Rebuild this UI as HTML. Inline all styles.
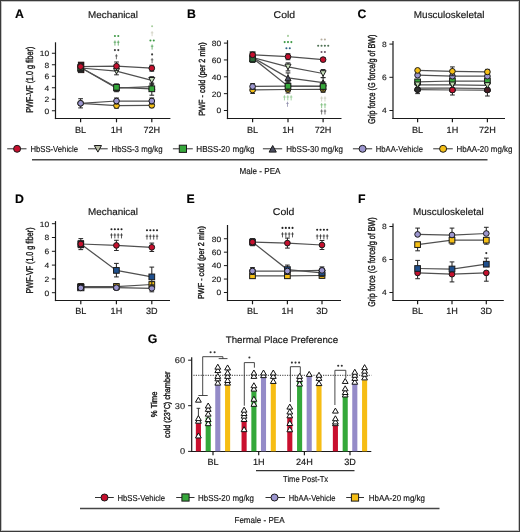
<!DOCTYPE html>
<html><head><meta charset="utf-8"><style>
html,body{margin:0;padding:0;background:#fff;}
#wrap{position:relative;width:520px;height:532px;overflow:hidden;background:#fff;}
svg{position:absolute;left:0;top:0;font-family:"Liberation Sans", sans-serif;}
text{stroke:#161616;stroke-width:0.16px;text-rendering:geometricPrecision;}
#wrap{will-change:transform;}
</style></head><body><div id="wrap">
<svg width="520" height="532" viewBox="0 0 520 532">
<rect x="0" y="0" width="520" height="532" fill="#fff"/>
<text x="15.0" y="17.7" font-size="12.3" text-anchor="start" font-weight="bold" fill="#000">A</text>
<text x="186.9" y="17.7" font-size="12.3" text-anchor="start" font-weight="bold" fill="#000">B</text>
<text x="357.4" y="17.7" font-size="12.3" text-anchor="start" font-weight="bold" fill="#000">C</text>
<text x="14.9" y="202.7" font-size="12.3" text-anchor="start" font-weight="bold" fill="#000">D</text>
<text x="186.6" y="202.7" font-size="12.3" text-anchor="start" font-weight="bold" fill="#000">E</text>
<text x="357.9" y="202.7" font-size="12.3" text-anchor="start" font-weight="bold" fill="#000">F</text>
<text x="147.8" y="343.3" font-size="12.3" text-anchor="start" font-weight="bold" fill="#000">G</text>
<text x="113.0" y="18.0" font-size="9.8" text-anchor="middle" font-weight="normal" fill="#161616" textLength="50.0" lengthAdjust="spacingAndGlyphs">Mechanical</text>
<text x="284.4" y="17.8" font-size="9.8" text-anchor="middle" font-weight="normal" fill="#161616" textLength="21.6" lengthAdjust="spacingAndGlyphs">Cold</text>
<text x="449.2" y="18.0" font-size="9.8" text-anchor="middle" font-weight="normal" fill="#161616" textLength="70.7" lengthAdjust="spacingAndGlyphs">Musculoskeletal</text>
<text x="113.0" y="215.2" font-size="9.8" text-anchor="middle" font-weight="normal" fill="#161616" textLength="50.0" lengthAdjust="spacingAndGlyphs">Mechanical</text>
<text x="283.6" y="215.2" font-size="9.8" text-anchor="middle" font-weight="normal" fill="#161616" textLength="21.6" lengthAdjust="spacingAndGlyphs">Cold</text>
<text x="448.4" y="215.2" font-size="9.8" text-anchor="middle" font-weight="normal" fill="#161616" textLength="70.7" lengthAdjust="spacingAndGlyphs">Musculoskeletal</text>
<text x="281.9" y="343.0" font-size="9.6" text-anchor="middle" font-weight="normal" fill="#161616" textLength="112.3" lengthAdjust="spacingAndGlyphs">Thermal Place Preference</text>
<line x1="55.5" y1="42.3" x2="55.5" y2="119.1" stroke="#1a1a1a" stroke-width="1.2"/>
<line x1="54.9" y1="118.5" x2="170.4" y2="118.5" stroke="#1a1a1a" stroke-width="1.2"/>
<line x1="51.9" y1="110.75" x2="55.5" y2="110.75" stroke="#1a1a1a" stroke-width="1.0"/>
<text x="49.199999999999996" y="113.6" font-size="7.7" text-anchor="end" font-weight="normal" fill="#161616" textLength="4.71" lengthAdjust="spacingAndGlyphs" style="stroke-width:0.12px">0</text>
<line x1="51.9" y1="99.25" x2="55.5" y2="99.25" stroke="#1a1a1a" stroke-width="1.0"/>
<text x="49.199999999999996" y="102.1" font-size="7.7" text-anchor="end" font-weight="normal" fill="#161616" textLength="4.71" lengthAdjust="spacingAndGlyphs" style="stroke-width:0.12px">2</text>
<line x1="51.9" y1="87.75" x2="55.5" y2="87.75" stroke="#1a1a1a" stroke-width="1.0"/>
<text x="49.199999999999996" y="90.6" font-size="7.7" text-anchor="end" font-weight="normal" fill="#161616" textLength="4.71" lengthAdjust="spacingAndGlyphs" style="stroke-width:0.12px">4</text>
<line x1="51.9" y1="76.25" x2="55.5" y2="76.25" stroke="#1a1a1a" stroke-width="1.0"/>
<text x="49.199999999999996" y="79.1" font-size="7.7" text-anchor="end" font-weight="normal" fill="#161616" textLength="4.71" lengthAdjust="spacingAndGlyphs" style="stroke-width:0.12px">6</text>
<line x1="51.9" y1="64.75" x2="55.5" y2="64.75" stroke="#1a1a1a" stroke-width="1.0"/>
<text x="49.199999999999996" y="67.6" font-size="7.7" text-anchor="end" font-weight="normal" fill="#161616" textLength="4.71" lengthAdjust="spacingAndGlyphs" style="stroke-width:0.12px">8</text>
<line x1="51.9" y1="53.25" x2="55.5" y2="53.25" stroke="#1a1a1a" stroke-width="1.0"/>
<text x="49.199999999999996" y="56.1" font-size="7.7" text-anchor="end" font-weight="normal" fill="#161616" textLength="9.42" lengthAdjust="spacingAndGlyphs" style="stroke-width:0.12px">10</text>
<line x1="80.6" y1="118.5" x2="80.6" y2="122.3" stroke="#1a1a1a" stroke-width="1.2"/>
<text x="80.6" y="132.6" font-size="9.1" text-anchor="middle" font-weight="normal" fill="#161616">BL</text>
<line x1="116.5" y1="118.5" x2="116.5" y2="122.3" stroke="#1a1a1a" stroke-width="1.2"/>
<text x="116.5" y="132.6" font-size="9.1" text-anchor="middle" font-weight="normal" fill="#161616">1H</text>
<line x1="151.8" y1="118.5" x2="151.8" y2="122.3" stroke="#1a1a1a" stroke-width="1.2"/>
<text x="151.8" y="132.6" font-size="9.1" text-anchor="middle" font-weight="normal" fill="#161616">72H</text>
<text transform="translate(33.4,79.7) rotate(-90)" x="0" y="0" font-size="9.9" text-anchor="middle" font-weight="normal" fill="#161616" textLength="66" lengthAdjust="spacingAndGlyphs" style="stroke-width:0.38px">PWF-VF (1.0 g fiber)</text>
<polyline points="80.6,103.3 116.5,105.6 151.8,105.3" fill="none" stroke="#505050" stroke-width="1.25"/>
<polyline points="80.6,103.3 116.5,101.0 151.8,101.0" fill="none" stroke="#505050" stroke-width="1.25"/>
<polyline points="80.6,67.5 116.5,88.2 151.8,86.6" fill="none" stroke="#505050" stroke-width="1.25"/>
<polyline points="80.6,68.0 116.5,71.2 151.8,80.3" fill="none" stroke="#505050" stroke-width="1.25"/>
<polyline points="80.6,67.5 116.5,87.3 151.8,88.8" fill="none" stroke="#505050" stroke-width="1.25"/>
<polyline points="80.6,66.6 116.5,66.2 151.8,68.2" fill="none" stroke="#505050" stroke-width="1.25"/>
<rect x="77.9" y="61.7" width="6.4" height="11.4" fill="#2a1212"/>
<line x1="116.5" y1="103.0" x2="116.5" y2="108.19999999999999" stroke="#2a2a2a" stroke-width="1.05"/>
<line x1="114.15" y1="103.0" x2="118.85" y2="103.0" stroke="#2a2a2a" stroke-width="1.05"/>
<line x1="114.15" y1="108.19999999999999" x2="118.85" y2="108.19999999999999" stroke="#2a2a2a" stroke-width="1.05"/>
<line x1="151.8" y1="102.89999999999999" x2="151.8" y2="107.7" stroke="#2a2a2a" stroke-width="1.05"/>
<line x1="149.45000000000002" y1="102.89999999999999" x2="154.15" y2="102.89999999999999" stroke="#2a2a2a" stroke-width="1.05"/>
<line x1="149.45000000000002" y1="107.7" x2="154.15" y2="107.7" stroke="#2a2a2a" stroke-width="1.05"/>
<circle cx="80.6" cy="103.3" r="2.85" fill="#f5bf16" stroke="#1a1a1a" stroke-width="1.0"/>
<circle cx="116.5" cy="105.6" r="2.85" fill="#f5bf16" stroke="#1a1a1a" stroke-width="1.0"/>
<circle cx="151.8" cy="105.3" r="2.85" fill="#f5bf16" stroke="#1a1a1a" stroke-width="1.0"/>
<line x1="80.6" y1="98.7" x2="80.6" y2="107.89999999999999" stroke="#2a2a2a" stroke-width="1.05"/>
<line x1="78.25" y1="98.7" x2="82.94999999999999" y2="98.7" stroke="#2a2a2a" stroke-width="1.05"/>
<line x1="78.25" y1="107.89999999999999" x2="82.94999999999999" y2="107.89999999999999" stroke="#2a2a2a" stroke-width="1.05"/>
<line x1="116.5" y1="98.0" x2="116.5" y2="104.0" stroke="#2a2a2a" stroke-width="1.05"/>
<line x1="114.15" y1="98.0" x2="118.85" y2="98.0" stroke="#2a2a2a" stroke-width="1.05"/>
<line x1="114.15" y1="104.0" x2="118.85" y2="104.0" stroke="#2a2a2a" stroke-width="1.05"/>
<line x1="151.8" y1="98.0" x2="151.8" y2="104.0" stroke="#2a2a2a" stroke-width="1.05"/>
<line x1="149.45000000000002" y1="98.0" x2="154.15" y2="98.0" stroke="#2a2a2a" stroke-width="1.05"/>
<line x1="149.45000000000002" y1="104.0" x2="154.15" y2="104.0" stroke="#2a2a2a" stroke-width="1.05"/>
<circle cx="80.6" cy="103.3" r="2.85" fill="#9c96cf" stroke="#1a1a1a" stroke-width="1.0"/>
<circle cx="116.5" cy="101.0" r="2.85" fill="#9c96cf" stroke="#1a1a1a" stroke-width="1.0"/>
<circle cx="151.8" cy="101.0" r="2.85" fill="#9c96cf" stroke="#1a1a1a" stroke-width="1.0"/>
<line x1="80.6" y1="64.5" x2="80.6" y2="72.5" stroke="#2a2a2a" stroke-width="1.05"/>
<line x1="78.25" y1="64.5" x2="82.94999999999999" y2="64.5" stroke="#2a2a2a" stroke-width="1.05"/>
<line x1="78.25" y1="72.5" x2="82.94999999999999" y2="72.5" stroke="#2a2a2a" stroke-width="1.05"/>
<line x1="116.5" y1="84.7" x2="116.5" y2="91.7" stroke="#2a2a2a" stroke-width="1.05"/>
<line x1="114.15" y1="84.7" x2="118.85" y2="84.7" stroke="#2a2a2a" stroke-width="1.05"/>
<line x1="114.15" y1="91.7" x2="118.85" y2="91.7" stroke="#2a2a2a" stroke-width="1.05"/>
<line x1="151.8" y1="83.1" x2="151.8" y2="90.1" stroke="#2a2a2a" stroke-width="1.05"/>
<line x1="149.45000000000002" y1="83.1" x2="154.15" y2="83.1" stroke="#2a2a2a" stroke-width="1.05"/>
<line x1="149.45000000000002" y1="90.1" x2="154.15" y2="90.1" stroke="#2a2a2a" stroke-width="1.05"/>
<path d="M77.6,71.3 L83.6,71.3 L80.6,65.7 Z" fill="#4c4e60" stroke="#1a1a1a" stroke-width="1.0" stroke-linejoin="miter"/>
<path d="M113.5,91.0 L119.5,91.0 L116.5,85.4 Z" fill="#4c4e60" stroke="#1a1a1a" stroke-width="1.0" stroke-linejoin="miter"/>
<path d="M148.8,89.39999999999999 L154.8,89.39999999999999 L151.8,83.8 Z" fill="#4c4e60" stroke="#1a1a1a" stroke-width="1.0" stroke-linejoin="miter"/>
<line x1="80.6" y1="65.5" x2="80.6" y2="72.5" stroke="#2a2a2a" stroke-width="1.05"/>
<line x1="78.25" y1="65.5" x2="82.94999999999999" y2="65.5" stroke="#2a2a2a" stroke-width="1.05"/>
<line x1="78.25" y1="72.5" x2="82.94999999999999" y2="72.5" stroke="#2a2a2a" stroke-width="1.05"/>
<line x1="116.5" y1="67.60000000000001" x2="116.5" y2="74.8" stroke="#2a2a2a" stroke-width="1.05"/>
<line x1="114.15" y1="67.60000000000001" x2="118.85" y2="67.60000000000001" stroke="#2a2a2a" stroke-width="1.05"/>
<line x1="114.15" y1="74.8" x2="118.85" y2="74.8" stroke="#2a2a2a" stroke-width="1.05"/>
<line x1="151.8" y1="76.7" x2="151.8" y2="83.89999999999999" stroke="#2a2a2a" stroke-width="1.05"/>
<line x1="149.45000000000002" y1="76.7" x2="154.15" y2="76.7" stroke="#2a2a2a" stroke-width="1.05"/>
<line x1="149.45000000000002" y1="83.89999999999999" x2="154.15" y2="83.89999999999999" stroke="#2a2a2a" stroke-width="1.05"/>
<path d="M77.6,66.2 L83.6,66.2 L80.6,71.8 Z" fill="#c9e0bd" stroke="#1a1a1a" stroke-width="1.0" stroke-linejoin="miter"/>
<path d="M113.5,68.4 L119.5,68.4 L116.5,74.0 Z" fill="#c9e0bd" stroke="#1a1a1a" stroke-width="1.0" stroke-linejoin="miter"/>
<path d="M148.8,77.5 L154.8,77.5 L151.8,83.1 Z" fill="#c9e0bd" stroke="#1a1a1a" stroke-width="1.0" stroke-linejoin="miter"/>
<line x1="80.6" y1="64.0" x2="80.6" y2="71.0" stroke="#2a2a2a" stroke-width="1.05"/>
<line x1="78.25" y1="64.0" x2="82.94999999999999" y2="64.0" stroke="#2a2a2a" stroke-width="1.05"/>
<line x1="78.25" y1="71.0" x2="82.94999999999999" y2="71.0" stroke="#2a2a2a" stroke-width="1.05"/>
<line x1="116.5" y1="83.89999999999999" x2="116.5" y2="90.7" stroke="#2a2a2a" stroke-width="1.05"/>
<line x1="114.15" y1="83.89999999999999" x2="118.85" y2="83.89999999999999" stroke="#2a2a2a" stroke-width="1.05"/>
<line x1="114.15" y1="90.7" x2="118.85" y2="90.7" stroke="#2a2a2a" stroke-width="1.05"/>
<line x1="151.8" y1="84.8" x2="151.8" y2="95.2" stroke="#2a2a2a" stroke-width="1.05"/>
<line x1="149.45000000000002" y1="84.8" x2="154.15" y2="84.8" stroke="#2a2a2a" stroke-width="1.05"/>
<line x1="149.45000000000002" y1="95.2" x2="154.15" y2="95.2" stroke="#2a2a2a" stroke-width="1.05"/>
<rect x="77.75" y="64.65" width="5.7" height="5.7" fill="#36a83b" stroke="#1a1a1a" stroke-width="1.0"/>
<rect x="113.65" y="84.45" width="5.7" height="5.7" fill="#36a83b" stroke="#1a1a1a" stroke-width="1.0"/>
<rect x="148.95000000000002" y="85.95" width="5.7" height="5.7" fill="#36a83b" stroke="#1a1a1a" stroke-width="1.0"/>
<line x1="80.6" y1="63.099999999999994" x2="80.6" y2="70.1" stroke="#2a2a2a" stroke-width="1.05"/>
<line x1="78.25" y1="63.099999999999994" x2="82.94999999999999" y2="63.099999999999994" stroke="#2a2a2a" stroke-width="1.05"/>
<line x1="78.25" y1="70.1" x2="82.94999999999999" y2="70.1" stroke="#2a2a2a" stroke-width="1.05"/>
<line x1="116.5" y1="62.0" x2="116.5" y2="70.4" stroke="#2a2a2a" stroke-width="1.05"/>
<line x1="114.15" y1="62.0" x2="118.85" y2="62.0" stroke="#2a2a2a" stroke-width="1.05"/>
<line x1="114.15" y1="70.4" x2="118.85" y2="70.4" stroke="#2a2a2a" stroke-width="1.05"/>
<line x1="151.8" y1="65.2" x2="151.8" y2="71.2" stroke="#2a2a2a" stroke-width="1.05"/>
<line x1="149.45000000000002" y1="65.2" x2="154.15" y2="65.2" stroke="#2a2a2a" stroke-width="1.05"/>
<line x1="149.45000000000002" y1="71.2" x2="154.15" y2="71.2" stroke="#2a2a2a" stroke-width="1.05"/>
<circle cx="80.6" cy="66.6" r="2.85" fill="#c5102e" stroke="#1a1a1a" stroke-width="1.0"/>
<circle cx="116.5" cy="66.2" r="2.85" fill="#c5102e" stroke="#1a1a1a" stroke-width="1.0"/>
<circle cx="151.8" cy="68.2" r="2.85" fill="#c5102e" stroke="#1a1a1a" stroke-width="1.0"/>
<line x1="227.5" y1="40.2" x2="227.5" y2="119.1" stroke="#1a1a1a" stroke-width="1.2"/>
<line x1="226.9" y1="118.5" x2="341.5" y2="118.5" stroke="#1a1a1a" stroke-width="1.2"/>
<line x1="223.9" y1="110.5" x2="227.5" y2="110.5" stroke="#1a1a1a" stroke-width="1.0"/>
<text x="221.20000000000002" y="113.35" font-size="7.7" text-anchor="end" font-weight="normal" fill="#161616" textLength="4.71" lengthAdjust="spacingAndGlyphs" style="stroke-width:0.12px">0</text>
<line x1="223.9" y1="93.65" x2="227.5" y2="93.65" stroke="#1a1a1a" stroke-width="1.0"/>
<text x="221.20000000000002" y="96.5" font-size="7.7" text-anchor="end" font-weight="normal" fill="#161616" textLength="9.42" lengthAdjust="spacingAndGlyphs" style="stroke-width:0.12px">20</text>
<line x1="223.9" y1="76.8" x2="227.5" y2="76.8" stroke="#1a1a1a" stroke-width="1.0"/>
<text x="221.20000000000002" y="79.64999999999999" font-size="7.7" text-anchor="end" font-weight="normal" fill="#161616" textLength="9.42" lengthAdjust="spacingAndGlyphs" style="stroke-width:0.12px">40</text>
<line x1="223.9" y1="59.949999999999996" x2="227.5" y2="59.949999999999996" stroke="#1a1a1a" stroke-width="1.0"/>
<text x="221.20000000000002" y="62.8" font-size="7.7" text-anchor="end" font-weight="normal" fill="#161616" textLength="9.42" lengthAdjust="spacingAndGlyphs" style="stroke-width:0.12px">60</text>
<line x1="223.9" y1="43.099999999999994" x2="227.5" y2="43.099999999999994" stroke="#1a1a1a" stroke-width="1.0"/>
<text x="221.20000000000002" y="45.949999999999996" font-size="7.7" text-anchor="end" font-weight="normal" fill="#161616" textLength="9.42" lengthAdjust="spacingAndGlyphs" style="stroke-width:0.12px">80</text>
<line x1="252.6" y1="118.5" x2="252.6" y2="122.3" stroke="#1a1a1a" stroke-width="1.2"/>
<text x="252.6" y="132.6" font-size="9.1" text-anchor="middle" font-weight="normal" fill="#161616">BL</text>
<line x1="288.0" y1="118.5" x2="288.0" y2="122.3" stroke="#1a1a1a" stroke-width="1.2"/>
<text x="288.0" y="132.6" font-size="9.1" text-anchor="middle" font-weight="normal" fill="#161616">1H</text>
<line x1="323.1" y1="118.5" x2="323.1" y2="122.3" stroke="#1a1a1a" stroke-width="1.2"/>
<text x="323.1" y="132.6" font-size="9.1" text-anchor="middle" font-weight="normal" fill="#161616">72H</text>
<text transform="translate(204.6,79.1) rotate(-90)" x="0" y="0" font-size="8.9" text-anchor="middle" font-weight="normal" fill="#161616" textLength="73.5" lengthAdjust="spacingAndGlyphs" style="stroke-width:0.38px">PWF - cold (per 2 min)</text>
<polyline points="252.6,90.0 288.0,89.5 323.1,89.3" fill="none" stroke="#505050" stroke-width="1.25"/>
<polyline points="252.6,86.5 288.0,86.2 323.1,86.0" fill="none" stroke="#505050" stroke-width="1.25"/>
<polyline points="252.6,57.5 288.0,77.9 323.1,82.7" fill="none" stroke="#505050" stroke-width="1.25"/>
<polyline points="252.6,57.5 288.0,66.9 323.1,73.5" fill="none" stroke="#505050" stroke-width="1.25"/>
<polyline points="252.6,58.0 288.0,86.2 323.1,86.5" fill="none" stroke="#505050" stroke-width="1.25"/>
<polyline points="252.6,54.8 288.0,56.7 323.1,59.6" fill="none" stroke="#505050" stroke-width="1.25"/>
<line x1="252.6" y1="86.5" x2="252.6" y2="93.5" stroke="#2a2a2a" stroke-width="1.05"/>
<line x1="250.25" y1="86.5" x2="254.95" y2="86.5" stroke="#2a2a2a" stroke-width="1.05"/>
<line x1="250.25" y1="93.5" x2="254.95" y2="93.5" stroke="#2a2a2a" stroke-width="1.05"/>
<line x1="288.0" y1="86.0" x2="288.0" y2="93.0" stroke="#2a2a2a" stroke-width="1.05"/>
<line x1="285.65" y1="86.0" x2="290.35" y2="86.0" stroke="#2a2a2a" stroke-width="1.05"/>
<line x1="285.65" y1="93.0" x2="290.35" y2="93.0" stroke="#2a2a2a" stroke-width="1.05"/>
<line x1="323.1" y1="86.3" x2="323.1" y2="92.3" stroke="#2a2a2a" stroke-width="1.05"/>
<line x1="320.75" y1="86.3" x2="325.45000000000005" y2="86.3" stroke="#2a2a2a" stroke-width="1.05"/>
<line x1="320.75" y1="92.3" x2="325.45000000000005" y2="92.3" stroke="#2a2a2a" stroke-width="1.05"/>
<circle cx="252.6" cy="90.0" r="2.85" fill="#f5bf16" stroke="#1a1a1a" stroke-width="1.0"/>
<circle cx="288.0" cy="89.5" r="2.85" fill="#f5bf16" stroke="#1a1a1a" stroke-width="1.0"/>
<circle cx="323.1" cy="89.3" r="2.85" fill="#f5bf16" stroke="#1a1a1a" stroke-width="1.0"/>
<line x1="252.6" y1="83.5" x2="252.6" y2="89.5" stroke="#2a2a2a" stroke-width="1.05"/>
<line x1="250.25" y1="83.5" x2="254.95" y2="83.5" stroke="#2a2a2a" stroke-width="1.05"/>
<line x1="250.25" y1="89.5" x2="254.95" y2="89.5" stroke="#2a2a2a" stroke-width="1.05"/>
<line x1="288.0" y1="83.2" x2="288.0" y2="89.2" stroke="#2a2a2a" stroke-width="1.05"/>
<line x1="285.65" y1="83.2" x2="290.35" y2="83.2" stroke="#2a2a2a" stroke-width="1.05"/>
<line x1="285.65" y1="89.2" x2="290.35" y2="89.2" stroke="#2a2a2a" stroke-width="1.05"/>
<line x1="323.1" y1="83.0" x2="323.1" y2="89.0" stroke="#2a2a2a" stroke-width="1.05"/>
<line x1="320.75" y1="83.0" x2="325.45000000000005" y2="83.0" stroke="#2a2a2a" stroke-width="1.05"/>
<line x1="320.75" y1="89.0" x2="325.45000000000005" y2="89.0" stroke="#2a2a2a" stroke-width="1.05"/>
<circle cx="252.6" cy="86.5" r="2.85" fill="#9c96cf" stroke="#1a1a1a" stroke-width="1.0"/>
<circle cx="288.0" cy="86.2" r="2.85" fill="#9c96cf" stroke="#1a1a1a" stroke-width="1.0"/>
<circle cx="323.1" cy="86.0" r="2.85" fill="#9c96cf" stroke="#1a1a1a" stroke-width="1.0"/>
<line x1="252.6" y1="55.0" x2="252.6" y2="62.0" stroke="#2a2a2a" stroke-width="1.05"/>
<line x1="250.25" y1="55.0" x2="254.95" y2="55.0" stroke="#2a2a2a" stroke-width="1.05"/>
<line x1="250.25" y1="62.0" x2="254.95" y2="62.0" stroke="#2a2a2a" stroke-width="1.05"/>
<line x1="288.0" y1="72.9" x2="288.0" y2="82.9" stroke="#2a2a2a" stroke-width="1.05"/>
<line x1="285.65" y1="72.9" x2="290.35" y2="72.9" stroke="#2a2a2a" stroke-width="1.05"/>
<line x1="285.65" y1="82.9" x2="290.35" y2="82.9" stroke="#2a2a2a" stroke-width="1.05"/>
<line x1="323.1" y1="77.7" x2="323.1" y2="87.7" stroke="#2a2a2a" stroke-width="1.05"/>
<line x1="320.75" y1="77.7" x2="325.45000000000005" y2="77.7" stroke="#2a2a2a" stroke-width="1.05"/>
<line x1="320.75" y1="87.7" x2="325.45000000000005" y2="87.7" stroke="#2a2a2a" stroke-width="1.05"/>
<path d="M249.6,61.3 L255.6,61.3 L252.6,55.7 Z" fill="#4c4e60" stroke="#1a1a1a" stroke-width="1.0" stroke-linejoin="miter"/>
<path d="M285.0,80.7 L291.0,80.7 L288.0,75.10000000000001 Z" fill="#4c4e60" stroke="#1a1a1a" stroke-width="1.0" stroke-linejoin="miter"/>
<path d="M320.1,85.5 L326.1,85.5 L323.1,79.9 Z" fill="#4c4e60" stroke="#1a1a1a" stroke-width="1.0" stroke-linejoin="miter"/>
<line x1="252.6" y1="55.0" x2="252.6" y2="62.0" stroke="#2a2a2a" stroke-width="1.05"/>
<line x1="250.25" y1="55.0" x2="254.95" y2="55.0" stroke="#2a2a2a" stroke-width="1.05"/>
<line x1="250.25" y1="62.0" x2="254.95" y2="62.0" stroke="#2a2a2a" stroke-width="1.05"/>
<line x1="288.0" y1="62.900000000000006" x2="288.0" y2="70.9" stroke="#2a2a2a" stroke-width="1.05"/>
<line x1="285.65" y1="62.900000000000006" x2="290.35" y2="62.900000000000006" stroke="#2a2a2a" stroke-width="1.05"/>
<line x1="285.65" y1="70.9" x2="290.35" y2="70.9" stroke="#2a2a2a" stroke-width="1.05"/>
<line x1="323.1" y1="69.5" x2="323.1" y2="77.5" stroke="#2a2a2a" stroke-width="1.05"/>
<line x1="320.75" y1="69.5" x2="325.45000000000005" y2="69.5" stroke="#2a2a2a" stroke-width="1.05"/>
<line x1="320.75" y1="77.5" x2="325.45000000000005" y2="77.5" stroke="#2a2a2a" stroke-width="1.05"/>
<path d="M249.6,55.7 L255.6,55.7 L252.6,61.3 Z" fill="#c9e0bd" stroke="#1a1a1a" stroke-width="1.0" stroke-linejoin="miter"/>
<path d="M285.0,64.10000000000001 L291.0,64.10000000000001 L288.0,69.7 Z" fill="#c9e0bd" stroke="#1a1a1a" stroke-width="1.0" stroke-linejoin="miter"/>
<path d="M320.1,70.7 L326.1,70.7 L323.1,76.3 Z" fill="#c9e0bd" stroke="#1a1a1a" stroke-width="1.0" stroke-linejoin="miter"/>
<line x1="252.6" y1="55.2" x2="252.6" y2="62.2" stroke="#2a2a2a" stroke-width="1.05"/>
<line x1="250.25" y1="55.2" x2="254.95" y2="55.2" stroke="#2a2a2a" stroke-width="1.05"/>
<line x1="250.25" y1="62.2" x2="254.95" y2="62.2" stroke="#2a2a2a" stroke-width="1.05"/>
<line x1="288.0" y1="81.7" x2="288.0" y2="90.7" stroke="#2a2a2a" stroke-width="1.05"/>
<line x1="285.65" y1="81.7" x2="290.35" y2="81.7" stroke="#2a2a2a" stroke-width="1.05"/>
<line x1="285.65" y1="90.7" x2="290.35" y2="90.7" stroke="#2a2a2a" stroke-width="1.05"/>
<line x1="323.1" y1="82.0" x2="323.1" y2="91.0" stroke="#2a2a2a" stroke-width="1.05"/>
<line x1="320.75" y1="82.0" x2="325.45000000000005" y2="82.0" stroke="#2a2a2a" stroke-width="1.05"/>
<line x1="320.75" y1="91.0" x2="325.45000000000005" y2="91.0" stroke="#2a2a2a" stroke-width="1.05"/>
<rect x="249.75" y="55.85" width="5.7" height="5.7" fill="#36a83b" stroke="#1a1a1a" stroke-width="1.0"/>
<rect x="285.15" y="83.35000000000001" width="5.7" height="5.7" fill="#36a83b" stroke="#1a1a1a" stroke-width="1.0"/>
<rect x="320.25" y="83.65" width="5.7" height="5.7" fill="#36a83b" stroke="#1a1a1a" stroke-width="1.0"/>
<rect x="249.7" y="51.3" width="5.8" height="11.3" fill="#1f2b22"/>
<rect x="250.5" y="57.5" width="4.2" height="3.6" fill="#2f6b3a"/>
<line x1="288.0" y1="53.7" x2="288.0" y2="59.7" stroke="#2a2a2a" stroke-width="1.05"/>
<line x1="285.65" y1="53.7" x2="290.35" y2="53.7" stroke="#2a2a2a" stroke-width="1.05"/>
<line x1="285.65" y1="59.7" x2="290.35" y2="59.7" stroke="#2a2a2a" stroke-width="1.05"/>
<line x1="323.1" y1="57.6" x2="323.1" y2="61.6" stroke="#2a2a2a" stroke-width="1.05"/>
<line x1="320.75" y1="57.6" x2="325.45000000000005" y2="57.6" stroke="#2a2a2a" stroke-width="1.05"/>
<line x1="320.75" y1="61.6" x2="325.45000000000005" y2="61.6" stroke="#2a2a2a" stroke-width="1.05"/>
<circle cx="252.6" cy="54.8" r="2.85" fill="#c5102e" stroke="#1a1a1a" stroke-width="1.0"/>
<circle cx="288.0" cy="56.7" r="2.85" fill="#c5102e" stroke="#1a1a1a" stroke-width="1.0"/>
<circle cx="323.1" cy="59.6" r="2.85" fill="#c5102e" stroke="#1a1a1a" stroke-width="1.0"/>
<line x1="393.0" y1="41.0" x2="393.0" y2="119.1" stroke="#1a1a1a" stroke-width="1.2"/>
<line x1="392.4" y1="118.5" x2="505.0" y2="118.5" stroke="#1a1a1a" stroke-width="1.2"/>
<line x1="389.4" y1="110.5" x2="393.0" y2="110.5" stroke="#1a1a1a" stroke-width="1.0"/>
<text x="386.7" y="113.35" font-size="7.7" text-anchor="end" font-weight="normal" fill="#161616" textLength="4.71" lengthAdjust="spacingAndGlyphs" style="stroke-width:0.12px">4</text>
<line x1="389.4" y1="77.3" x2="393.0" y2="77.3" stroke="#1a1a1a" stroke-width="1.0"/>
<text x="386.7" y="80.14999999999999" font-size="7.7" text-anchor="end" font-weight="normal" fill="#161616" textLength="4.71" lengthAdjust="spacingAndGlyphs" style="stroke-width:0.12px">6</text>
<line x1="389.4" y1="44.099999999999994" x2="393.0" y2="44.099999999999994" stroke="#1a1a1a" stroke-width="1.0"/>
<text x="386.7" y="46.949999999999996" font-size="7.7" text-anchor="end" font-weight="normal" fill="#161616" textLength="4.71" lengthAdjust="spacingAndGlyphs" style="stroke-width:0.12px">8</text>
<line x1="417.6" y1="118.5" x2="417.6" y2="122.3" stroke="#1a1a1a" stroke-width="1.2"/>
<text x="417.6" y="132.6" font-size="9.1" text-anchor="middle" font-weight="normal" fill="#161616">BL</text>
<line x1="452.4" y1="118.5" x2="452.4" y2="122.3" stroke="#1a1a1a" stroke-width="1.2"/>
<text x="452.4" y="132.6" font-size="9.1" text-anchor="middle" font-weight="normal" fill="#161616">1H</text>
<line x1="487.4" y1="118.5" x2="487.4" y2="122.3" stroke="#1a1a1a" stroke-width="1.2"/>
<text x="487.4" y="132.6" font-size="9.1" text-anchor="middle" font-weight="normal" fill="#161616">72H</text>
<text transform="translate(375.0,79.3) rotate(-90)" x="0" y="0" font-size="9.8" text-anchor="middle" font-weight="normal" fill="#161616" textLength="89.5" lengthAdjust="spacingAndGlyphs" style="stroke-width:0.38px">Grip force (G force/g of BW)</text>
<polyline points="417.6,89.6 452.4,90.0 487.4,90.0" fill="none" stroke="#505050" stroke-width="1.25"/>
<polyline points="417.6,88.0 452.4,88.0 487.4,88.5" fill="none" stroke="#505050" stroke-width="1.25"/>
<polyline points="417.6,84.8 452.4,84.8 487.4,85.4" fill="none" stroke="#505050" stroke-width="1.25"/>
<polyline points="417.6,81.9 452.4,81.0 487.4,81.0" fill="none" stroke="#505050" stroke-width="1.25"/>
<polyline points="417.6,75.2 452.4,76.2 487.4,76.2" fill="none" stroke="#505050" stroke-width="1.25"/>
<polyline points="417.6,70.4 452.4,71.3 487.4,71.9" fill="none" stroke="#505050" stroke-width="1.25"/>
<line x1="417.6" y1="85.6" x2="417.6" y2="93.6" stroke="#2a2a2a" stroke-width="1.05"/>
<line x1="415.25" y1="85.6" x2="419.95000000000005" y2="85.6" stroke="#2a2a2a" stroke-width="1.05"/>
<line x1="415.25" y1="93.6" x2="419.95000000000005" y2="93.6" stroke="#2a2a2a" stroke-width="1.05"/>
<line x1="452.4" y1="85.0" x2="452.4" y2="95.0" stroke="#2a2a2a" stroke-width="1.05"/>
<line x1="450.04999999999995" y1="85.0" x2="454.75" y2="85.0" stroke="#2a2a2a" stroke-width="1.05"/>
<line x1="450.04999999999995" y1="95.0" x2="454.75" y2="95.0" stroke="#2a2a2a" stroke-width="1.05"/>
<line x1="487.4" y1="84.0" x2="487.4" y2="96.0" stroke="#2a2a2a" stroke-width="1.05"/>
<line x1="485.04999999999995" y1="84.0" x2="489.75" y2="84.0" stroke="#2a2a2a" stroke-width="1.05"/>
<line x1="485.04999999999995" y1="96.0" x2="489.75" y2="96.0" stroke="#2a2a2a" stroke-width="1.05"/>
<circle cx="417.6" cy="89.6" r="2.85" fill="#3a1a22" stroke="#1a1a1a" stroke-width="1.0"/>
<circle cx="452.4" cy="90.0" r="2.85" fill="#3a1a22" stroke="#1a1a1a" stroke-width="1.0"/>
<circle cx="487.4" cy="90.0" r="2.85" fill="#3a1a22" stroke="#1a1a1a" stroke-width="1.0"/>
<path d="M414.6,90.8 L420.6,90.8 L417.6,85.2 Z" fill="#4c4e60" stroke="#1a1a1a" stroke-width="1.0" stroke-linejoin="miter"/>
<path d="M449.4,90.8 L455.4,90.8 L452.4,85.2 Z" fill="#4c4e60" stroke="#1a1a1a" stroke-width="1.0" stroke-linejoin="miter"/>
<path d="M484.4,91.3 L490.4,91.3 L487.4,85.7 Z" fill="#4c4e60" stroke="#1a1a1a" stroke-width="1.0" stroke-linejoin="miter"/>
<circle cx="417.6" cy="89.6" r="2.85" fill="#2e2e2e" stroke="#1a1a1a" stroke-width="1.0"/>
<circle cx="452.4" cy="90.0" r="2.85" fill="#c5102e" stroke="#1a1a1a" stroke-width="1.0"/>
<circle cx="487.4" cy="90.0" r="2.85" fill="#4a1c24" stroke="#1a1a1a" stroke-width="1.0"/>
<rect x="414.75" y="79.05000000000001" width="5.7" height="5.7" fill="#36a83b" stroke="#1a1a1a" stroke-width="1.0"/>
<rect x="449.54999999999995" y="78.15" width="5.7" height="5.7" fill="#36a83b" stroke="#1a1a1a" stroke-width="1.0"/>
<rect x="484.54999999999995" y="78.15" width="5.7" height="5.7" fill="#36a83b" stroke="#1a1a1a" stroke-width="1.0"/>
<path d="M414.6,82.0 L420.6,82.0 L417.6,87.6 Z" fill="#c4dcb4" stroke="#1a1a1a" stroke-width="1.0" stroke-linejoin="miter"/>
<path d="M449.4,82.0 L455.4,82.0 L452.4,87.6 Z" fill="#c4dcb4" stroke="#1a1a1a" stroke-width="1.0" stroke-linejoin="miter"/>
<path d="M484.4,82.60000000000001 L490.4,82.60000000000001 L487.4,88.2 Z" fill="#c4dcb4" stroke="#1a1a1a" stroke-width="1.0" stroke-linejoin="miter"/>
<circle cx="417.6" cy="75.2" r="2.85" fill="#9c96cf" stroke="#1a1a1a" stroke-width="1.0"/>
<circle cx="452.4" cy="76.2" r="2.85" fill="#9c96cf" stroke="#1a1a1a" stroke-width="1.0"/>
<circle cx="487.4" cy="76.2" r="2.85" fill="#9c96cf" stroke="#1a1a1a" stroke-width="1.0"/>
<line x1="452.4" y1="66.89999999999999" x2="452.4" y2="75.7" stroke="#2a2a2a" stroke-width="1.05"/>
<line x1="450.04999999999995" y1="66.89999999999999" x2="454.75" y2="66.89999999999999" stroke="#2a2a2a" stroke-width="1.05"/>
<line x1="450.04999999999995" y1="75.7" x2="454.75" y2="75.7" stroke="#2a2a2a" stroke-width="1.05"/>
<line x1="487.4" y1="69.4" x2="487.4" y2="74.4" stroke="#2a2a2a" stroke-width="1.05"/>
<line x1="485.04999999999995" y1="69.4" x2="489.75" y2="69.4" stroke="#2a2a2a" stroke-width="1.05"/>
<line x1="485.04999999999995" y1="74.4" x2="489.75" y2="74.4" stroke="#2a2a2a" stroke-width="1.05"/>
<circle cx="417.6" cy="70.4" r="2.85" fill="#f5bf16" stroke="#1a1a1a" stroke-width="1.0"/>
<circle cx="452.4" cy="71.3" r="2.85" fill="#f5bf16" stroke="#1a1a1a" stroke-width="1.0"/>
<circle cx="487.4" cy="71.9" r="2.85" fill="#f5bf16" stroke="#1a1a1a" stroke-width="1.0"/>
<line x1="55.5" y1="221.1" x2="55.5" y2="301.1" stroke="#1a1a1a" stroke-width="1.2"/>
<line x1="54.9" y1="300.5" x2="170.0" y2="300.5" stroke="#1a1a1a" stroke-width="1.2"/>
<line x1="51.9" y1="292.7" x2="55.5" y2="292.7" stroke="#1a1a1a" stroke-width="1.0"/>
<text x="49.199999999999996" y="295.55" font-size="7.7" text-anchor="end" font-weight="normal" fill="#161616" textLength="4.71" lengthAdjust="spacingAndGlyphs" style="stroke-width:0.12px">0</text>
<line x1="51.9" y1="278.9" x2="55.5" y2="278.9" stroke="#1a1a1a" stroke-width="1.0"/>
<text x="49.199999999999996" y="281.75" font-size="7.7" text-anchor="end" font-weight="normal" fill="#161616" textLength="4.71" lengthAdjust="spacingAndGlyphs" style="stroke-width:0.12px">2</text>
<line x1="51.9" y1="265.09999999999997" x2="55.5" y2="265.09999999999997" stroke="#1a1a1a" stroke-width="1.0"/>
<text x="49.199999999999996" y="267.95" font-size="7.7" text-anchor="end" font-weight="normal" fill="#161616" textLength="4.71" lengthAdjust="spacingAndGlyphs" style="stroke-width:0.12px">4</text>
<line x1="51.9" y1="251.29999999999998" x2="55.5" y2="251.29999999999998" stroke="#1a1a1a" stroke-width="1.0"/>
<text x="49.199999999999996" y="254.14999999999998" font-size="7.7" text-anchor="end" font-weight="normal" fill="#161616" textLength="4.71" lengthAdjust="spacingAndGlyphs" style="stroke-width:0.12px">6</text>
<line x1="51.9" y1="237.5" x2="55.5" y2="237.5" stroke="#1a1a1a" stroke-width="1.0"/>
<text x="49.199999999999996" y="240.35" font-size="7.7" text-anchor="end" font-weight="normal" fill="#161616" textLength="4.71" lengthAdjust="spacingAndGlyphs" style="stroke-width:0.12px">8</text>
<line x1="51.9" y1="223.7" x2="55.5" y2="223.7" stroke="#1a1a1a" stroke-width="1.0"/>
<text x="49.199999999999996" y="226.54999999999998" font-size="7.7" text-anchor="end" font-weight="normal" fill="#161616" textLength="9.42" lengthAdjust="spacingAndGlyphs" style="stroke-width:0.12px">10</text>
<line x1="80.8" y1="300.5" x2="80.8" y2="304.3" stroke="#1a1a1a" stroke-width="1.2"/>
<text x="80.8" y="313.8" font-size="9.1" text-anchor="middle" font-weight="normal" fill="#161616">BL</text>
<line x1="116.4" y1="300.5" x2="116.4" y2="304.3" stroke="#1a1a1a" stroke-width="1.2"/>
<text x="116.4" y="313.8" font-size="9.1" text-anchor="middle" font-weight="normal" fill="#161616">1H</text>
<line x1="151.8" y1="300.5" x2="151.8" y2="304.3" stroke="#1a1a1a" stroke-width="1.2"/>
<text x="151.8" y="313.8" font-size="9.1" text-anchor="middle" font-weight="normal" fill="#161616">3D</text>
<text transform="translate(33.4,260.4) rotate(-90)" x="0" y="0" font-size="9.9" text-anchor="middle" font-weight="normal" fill="#161616" textLength="66" lengthAdjust="spacingAndGlyphs" style="stroke-width:0.38px">PWF-VF (1.0 g fiber)</text>
<polyline points="80.8,286.5 116.4,286.5 151.8,284.5" fill="none" stroke="#505050" stroke-width="1.25"/>
<polyline points="80.8,287.7 116.4,287.7 151.8,288.3" fill="none" stroke="#505050" stroke-width="1.25"/>
<polyline points="80.8,244.0 116.4,270.4 151.8,276.9" fill="none" stroke="#505050" stroke-width="1.25"/>
<polyline points="80.8,244.0 116.4,245.4 151.8,247.3" fill="none" stroke="#505050" stroke-width="1.25"/>
<line x1="80.8" y1="283.5" x2="80.8" y2="289.5" stroke="#2a2a2a" stroke-width="1.05"/>
<line x1="78.45" y1="283.5" x2="83.14999999999999" y2="283.5" stroke="#2a2a2a" stroke-width="1.05"/>
<line x1="78.45" y1="289.5" x2="83.14999999999999" y2="289.5" stroke="#2a2a2a" stroke-width="1.05"/>
<line x1="116.4" y1="283.5" x2="116.4" y2="289.5" stroke="#2a2a2a" stroke-width="1.05"/>
<line x1="114.05000000000001" y1="283.5" x2="118.75" y2="283.5" stroke="#2a2a2a" stroke-width="1.05"/>
<line x1="114.05000000000001" y1="289.5" x2="118.75" y2="289.5" stroke="#2a2a2a" stroke-width="1.05"/>
<line x1="151.8" y1="281.5" x2="151.8" y2="287.5" stroke="#2a2a2a" stroke-width="1.05"/>
<line x1="149.45000000000002" y1="281.5" x2="154.15" y2="281.5" stroke="#2a2a2a" stroke-width="1.05"/>
<line x1="149.45000000000002" y1="287.5" x2="154.15" y2="287.5" stroke="#2a2a2a" stroke-width="1.05"/>
<rect x="77.95" y="283.65" width="5.7" height="5.7" fill="#f5bf16" stroke="#1a1a1a" stroke-width="1.0"/>
<rect x="113.55000000000001" y="283.65" width="5.7" height="5.7" fill="#f5bf16" stroke="#1a1a1a" stroke-width="1.0"/>
<rect x="148.95000000000002" y="281.65" width="5.7" height="5.7" fill="#f5bf16" stroke="#1a1a1a" stroke-width="1.0"/>
<rect x="77.7" y="284.5" width="6.2" height="6.2" fill="#2a2d45" stroke="#1a1a1a" stroke-width="1.0"/>
<line x1="80.8" y1="285.4" x2="80.8" y2="290.4" stroke="#2a2a2a" stroke-width="1.05"/>
<line x1="78.45" y1="285.4" x2="83.14999999999999" y2="285.4" stroke="#2a2a2a" stroke-width="1.05"/>
<line x1="78.45" y1="290.4" x2="83.14999999999999" y2="290.4" stroke="#2a2a2a" stroke-width="1.05"/>
<line x1="116.4" y1="285.2" x2="116.4" y2="290.2" stroke="#2a2a2a" stroke-width="1.05"/>
<line x1="114.05000000000001" y1="285.2" x2="118.75" y2="285.2" stroke="#2a2a2a" stroke-width="1.05"/>
<line x1="114.05000000000001" y1="290.2" x2="118.75" y2="290.2" stroke="#2a2a2a" stroke-width="1.05"/>
<line x1="151.8" y1="284.8" x2="151.8" y2="291.8" stroke="#2a2a2a" stroke-width="1.05"/>
<line x1="149.45000000000002" y1="284.8" x2="154.15" y2="284.8" stroke="#2a2a2a" stroke-width="1.05"/>
<line x1="149.45000000000002" y1="291.8" x2="154.15" y2="291.8" stroke="#2a2a2a" stroke-width="1.05"/>
<circle cx="80.8" cy="287.9" r="2.85" fill="#9c96cf" stroke="#1a1a1a" stroke-width="1.0"/>
<circle cx="116.4" cy="287.7" r="2.85" fill="#9c96cf" stroke="#1a1a1a" stroke-width="1.0"/>
<circle cx="151.8" cy="288.3" r="2.85" fill="#9c96cf" stroke="#1a1a1a" stroke-width="1.0"/>
<line x1="80.8" y1="238.6" x2="80.8" y2="249.6" stroke="#2a2a2a" stroke-width="1.05"/>
<line x1="78.45" y1="238.6" x2="83.14999999999999" y2="238.6" stroke="#2a2a2a" stroke-width="1.05"/>
<line x1="78.45" y1="249.6" x2="83.14999999999999" y2="249.6" stroke="#2a2a2a" stroke-width="1.05"/>
<rect x="77.8" y="240.2" width="6.2" height="8" fill="#2a1a22"/>
<line x1="116.4" y1="263.4" x2="116.4" y2="276.9" stroke="#2a2a2a" stroke-width="1.05"/>
<line x1="114.05000000000001" y1="263.4" x2="118.75" y2="263.4" stroke="#2a2a2a" stroke-width="1.05"/>
<line x1="114.05000000000001" y1="276.9" x2="118.75" y2="276.9" stroke="#2a2a2a" stroke-width="1.05"/>
<line x1="151.8" y1="267.09999999999997" x2="151.8" y2="285.9" stroke="#2a2a2a" stroke-width="1.05"/>
<line x1="149.45000000000002" y1="267.09999999999997" x2="154.15" y2="267.09999999999997" stroke="#2a2a2a" stroke-width="1.05"/>
<line x1="149.45000000000002" y1="285.9" x2="154.15" y2="285.9" stroke="#2a2a2a" stroke-width="1.05"/>
<rect x="77.95" y="241.15" width="5.7" height="5.7" fill="#1f4f8c" stroke="#1a1a1a" stroke-width="1.0"/>
<rect x="113.55000000000001" y="267.54999999999995" width="5.7" height="5.7" fill="#1f4f8c" stroke="#1a1a1a" stroke-width="1.0"/>
<rect x="148.95000000000002" y="274.04999999999995" width="5.7" height="5.7" fill="#1f4f8c" stroke="#1a1a1a" stroke-width="1.0"/>
<line x1="116.4" y1="240.3" x2="116.4" y2="250.5" stroke="#2a2a2a" stroke-width="1.05"/>
<line x1="114.05000000000001" y1="240.3" x2="118.75" y2="240.3" stroke="#2a2a2a" stroke-width="1.05"/>
<line x1="114.05000000000001" y1="250.5" x2="118.75" y2="250.5" stroke="#2a2a2a" stroke-width="1.05"/>
<line x1="151.8" y1="243.10000000000002" x2="151.8" y2="251.5" stroke="#2a2a2a" stroke-width="1.05"/>
<line x1="149.45000000000002" y1="243.10000000000002" x2="154.15" y2="243.10000000000002" stroke="#2a2a2a" stroke-width="1.05"/>
<line x1="149.45000000000002" y1="251.5" x2="154.15" y2="251.5" stroke="#2a2a2a" stroke-width="1.05"/>
<circle cx="80.8" cy="244.0" r="2.85" fill="#c5102e" stroke="#1a1a1a" stroke-width="1.0"/>
<circle cx="116.4" cy="245.4" r="2.85" fill="#c5102e" stroke="#1a1a1a" stroke-width="1.0"/>
<circle cx="151.8" cy="247.3" r="2.85" fill="#c5102e" stroke="#1a1a1a" stroke-width="1.0"/>
<line x1="227.5" y1="225.0" x2="227.5" y2="301.1" stroke="#1a1a1a" stroke-width="1.2"/>
<line x1="226.9" y1="300.5" x2="341.0" y2="300.5" stroke="#1a1a1a" stroke-width="1.2"/>
<line x1="223.9" y1="292.5" x2="227.5" y2="292.5" stroke="#1a1a1a" stroke-width="1.0"/>
<text x="221.20000000000002" y="295.35" font-size="7.7" text-anchor="end" font-weight="normal" fill="#161616" textLength="4.71" lengthAdjust="spacingAndGlyphs" style="stroke-width:0.12px">0</text>
<line x1="223.9" y1="279.06" x2="227.5" y2="279.06" stroke="#1a1a1a" stroke-width="1.0"/>
<text x="221.20000000000002" y="281.91" font-size="7.7" text-anchor="end" font-weight="normal" fill="#161616" textLength="9.42" lengthAdjust="spacingAndGlyphs" style="stroke-width:0.12px">20</text>
<line x1="223.9" y1="265.62" x2="227.5" y2="265.62" stroke="#1a1a1a" stroke-width="1.0"/>
<text x="221.20000000000002" y="268.47" font-size="7.7" text-anchor="end" font-weight="normal" fill="#161616" textLength="9.42" lengthAdjust="spacingAndGlyphs" style="stroke-width:0.12px">40</text>
<line x1="223.9" y1="252.18" x2="227.5" y2="252.18" stroke="#1a1a1a" stroke-width="1.0"/>
<text x="221.20000000000002" y="255.03" font-size="7.7" text-anchor="end" font-weight="normal" fill="#161616" textLength="9.42" lengthAdjust="spacingAndGlyphs" style="stroke-width:0.12px">60</text>
<line x1="223.9" y1="238.74" x2="227.5" y2="238.74" stroke="#1a1a1a" stroke-width="1.0"/>
<text x="221.20000000000002" y="241.59" font-size="7.7" text-anchor="end" font-weight="normal" fill="#161616" textLength="9.42" lengthAdjust="spacingAndGlyphs" style="stroke-width:0.12px">80</text>
<line x1="252.5" y1="300.5" x2="252.5" y2="304.3" stroke="#1a1a1a" stroke-width="1.2"/>
<text x="252.5" y="313.8" font-size="9.1" text-anchor="middle" font-weight="normal" fill="#161616">BL</text>
<line x1="287.4" y1="300.5" x2="287.4" y2="304.3" stroke="#1a1a1a" stroke-width="1.2"/>
<text x="287.4" y="313.8" font-size="9.1" text-anchor="middle" font-weight="normal" fill="#161616">1H</text>
<line x1="322.0" y1="300.5" x2="322.0" y2="304.3" stroke="#1a1a1a" stroke-width="1.2"/>
<text x="322.0" y="313.8" font-size="9.1" text-anchor="middle" font-weight="normal" fill="#161616">3D</text>
<text transform="translate(203.6,262.5) rotate(-90)" x="0" y="0" font-size="8.6" text-anchor="middle" font-weight="normal" fill="#161616" textLength="73" lengthAdjust="spacingAndGlyphs" style="stroke-width:0.38px">PWF - cold (per 2 min)</text>
<polyline points="252.5,275.8 287.4,275.8 322.0,275.5" fill="none" stroke="#505050" stroke-width="1.25"/>
<polyline points="252.5,271.0 287.4,271.0 322.0,270.4" fill="none" stroke="#505050" stroke-width="1.25"/>
<polyline points="252.5,242.1 287.4,269.6 322.0,272.9" fill="none" stroke="#505050" stroke-width="1.25"/>
<polyline points="252.5,242.1 287.4,243.1 322.0,245.0" fill="none" stroke="#505050" stroke-width="1.25"/>
<line x1="252.5" y1="273.3" x2="252.5" y2="278.3" stroke="#2a2a2a" stroke-width="1.05"/>
<line x1="250.15" y1="273.3" x2="254.85" y2="273.3" stroke="#2a2a2a" stroke-width="1.05"/>
<line x1="250.15" y1="278.3" x2="254.85" y2="278.3" stroke="#2a2a2a" stroke-width="1.05"/>
<line x1="287.4" y1="273.3" x2="287.4" y2="278.3" stroke="#2a2a2a" stroke-width="1.05"/>
<line x1="285.04999999999995" y1="273.3" x2="289.75" y2="273.3" stroke="#2a2a2a" stroke-width="1.05"/>
<line x1="285.04999999999995" y1="278.3" x2="289.75" y2="278.3" stroke="#2a2a2a" stroke-width="1.05"/>
<line x1="322.0" y1="273.0" x2="322.0" y2="278.0" stroke="#2a2a2a" stroke-width="1.05"/>
<line x1="319.65" y1="273.0" x2="324.35" y2="273.0" stroke="#2a2a2a" stroke-width="1.05"/>
<line x1="319.65" y1="278.0" x2="324.35" y2="278.0" stroke="#2a2a2a" stroke-width="1.05"/>
<rect x="249.65" y="272.95" width="5.7" height="5.7" fill="#f5bf16" stroke="#1a1a1a" stroke-width="1.0"/>
<rect x="284.54999999999995" y="272.95" width="5.7" height="5.7" fill="#f5bf16" stroke="#1a1a1a" stroke-width="1.0"/>
<rect x="319.15" y="272.65" width="5.7" height="5.7" fill="#f5bf16" stroke="#1a1a1a" stroke-width="1.0"/>
<line x1="252.5" y1="267.5" x2="252.5" y2="274.5" stroke="#2a2a2a" stroke-width="1.05"/>
<line x1="250.15" y1="267.5" x2="254.85" y2="267.5" stroke="#2a2a2a" stroke-width="1.05"/>
<line x1="250.15" y1="274.5" x2="254.85" y2="274.5" stroke="#2a2a2a" stroke-width="1.05"/>
<line x1="287.4" y1="267.5" x2="287.4" y2="274.5" stroke="#2a2a2a" stroke-width="1.05"/>
<line x1="285.04999999999995" y1="267.5" x2="289.75" y2="267.5" stroke="#2a2a2a" stroke-width="1.05"/>
<line x1="285.04999999999995" y1="274.5" x2="289.75" y2="274.5" stroke="#2a2a2a" stroke-width="1.05"/>
<line x1="322.0" y1="266.9" x2="322.0" y2="273.9" stroke="#2a2a2a" stroke-width="1.05"/>
<line x1="319.65" y1="266.9" x2="324.35" y2="266.9" stroke="#2a2a2a" stroke-width="1.05"/>
<line x1="319.65" y1="273.9" x2="324.35" y2="273.9" stroke="#2a2a2a" stroke-width="1.05"/>
<circle cx="252.5" cy="271.0" r="2.85" fill="#9c96cf" stroke="#1a1a1a" stroke-width="1.0"/>
<circle cx="287.4" cy="271.0" r="2.85" fill="#9c96cf" stroke="#1a1a1a" stroke-width="1.0"/>
<circle cx="322.0" cy="270.4" r="2.85" fill="#9c96cf" stroke="#1a1a1a" stroke-width="1.0"/>
<line x1="252.5" y1="238.6" x2="252.5" y2="245.6" stroke="#2a2a2a" stroke-width="1.05"/>
<line x1="250.15" y1="238.6" x2="254.85" y2="238.6" stroke="#2a2a2a" stroke-width="1.05"/>
<line x1="250.15" y1="245.6" x2="254.85" y2="245.6" stroke="#2a2a2a" stroke-width="1.05"/>
<line x1="287.4" y1="265.1" x2="287.4" y2="274.1" stroke="#2a2a2a" stroke-width="1.05"/>
<line x1="285.04999999999995" y1="265.1" x2="289.75" y2="265.1" stroke="#2a2a2a" stroke-width="1.05"/>
<line x1="285.04999999999995" y1="274.1" x2="289.75" y2="274.1" stroke="#2a2a2a" stroke-width="1.05"/>
<line x1="322.0" y1="269.4" x2="322.0" y2="276.4" stroke="#2a2a2a" stroke-width="1.05"/>
<line x1="319.65" y1="269.4" x2="324.35" y2="269.4" stroke="#2a2a2a" stroke-width="1.05"/>
<line x1="319.65" y1="276.4" x2="324.35" y2="276.4" stroke="#2a2a2a" stroke-width="1.05"/>
<rect x="249.65" y="239.25" width="5.7" height="5.7" fill="#1f4f8c" stroke="#1a1a1a" stroke-width="1.0"/>
<rect x="284.54999999999995" y="266.75" width="5.7" height="5.7" fill="#1f4f8c" stroke="#1a1a1a" stroke-width="1.0"/>
<rect x="319.15" y="270.04999999999995" width="5.7" height="5.7" fill="#1f4f8c" stroke="#1a1a1a" stroke-width="1.0"/>
<circle cx="252.5" cy="271.0" r="2.85" fill="#9c96cf" stroke="#1a1a1a" stroke-width="1.0"/>
<circle cx="287.4" cy="271.0" r="2.85" fill="#9c96cf" stroke="#1a1a1a" stroke-width="1.0"/>
<circle cx="322.0" cy="270.4" r="2.85" fill="#9c96cf" stroke="#1a1a1a" stroke-width="1.0"/>
<line x1="252.5" y1="238.6" x2="252.5" y2="245.6" stroke="#2a2a2a" stroke-width="1.05"/>
<line x1="250.15" y1="238.6" x2="254.85" y2="238.6" stroke="#2a2a2a" stroke-width="1.05"/>
<line x1="250.15" y1="245.6" x2="254.85" y2="245.6" stroke="#2a2a2a" stroke-width="1.05"/>
<line x1="287.4" y1="238.1" x2="287.4" y2="248.1" stroke="#2a2a2a" stroke-width="1.05"/>
<line x1="285.04999999999995" y1="238.1" x2="289.75" y2="238.1" stroke="#2a2a2a" stroke-width="1.05"/>
<line x1="285.04999999999995" y1="248.1" x2="289.75" y2="248.1" stroke="#2a2a2a" stroke-width="1.05"/>
<line x1="322.0" y1="240.5" x2="322.0" y2="249.5" stroke="#2a2a2a" stroke-width="1.05"/>
<line x1="319.65" y1="240.5" x2="324.35" y2="240.5" stroke="#2a2a2a" stroke-width="1.05"/>
<line x1="319.65" y1="249.5" x2="324.35" y2="249.5" stroke="#2a2a2a" stroke-width="1.05"/>
<circle cx="252.5" cy="242.1" r="2.85" fill="#c5102e" stroke="#1a1a1a" stroke-width="1.0"/>
<circle cx="287.4" cy="243.1" r="2.85" fill="#c5102e" stroke="#1a1a1a" stroke-width="1.0"/>
<circle cx="322.0" cy="245.0" r="2.85" fill="#c5102e" stroke="#1a1a1a" stroke-width="1.0"/>
<line x1="393.0" y1="223.5" x2="393.0" y2="301.1" stroke="#1a1a1a" stroke-width="1.2"/>
<line x1="392.4" y1="300.5" x2="503.8" y2="300.5" stroke="#1a1a1a" stroke-width="1.2"/>
<line x1="389.4" y1="292.5" x2="393.0" y2="292.5" stroke="#1a1a1a" stroke-width="1.0"/>
<text x="386.7" y="295.35" font-size="7.7" text-anchor="end" font-weight="normal" fill="#161616" textLength="4.71" lengthAdjust="spacingAndGlyphs" style="stroke-width:0.12px">4</text>
<line x1="389.4" y1="259.5" x2="393.0" y2="259.5" stroke="#1a1a1a" stroke-width="1.0"/>
<text x="386.7" y="262.35" font-size="7.7" text-anchor="end" font-weight="normal" fill="#161616" textLength="4.71" lengthAdjust="spacingAndGlyphs" style="stroke-width:0.12px">6</text>
<line x1="389.4" y1="226.5" x2="393.0" y2="226.5" stroke="#1a1a1a" stroke-width="1.0"/>
<text x="386.7" y="229.35" font-size="7.7" text-anchor="end" font-weight="normal" fill="#161616" textLength="4.71" lengthAdjust="spacingAndGlyphs" style="stroke-width:0.12px">8</text>
<line x1="417.6" y1="300.5" x2="417.6" y2="304.3" stroke="#1a1a1a" stroke-width="1.2"/>
<text x="417.6" y="313.8" font-size="9.1" text-anchor="middle" font-weight="normal" fill="#161616">BL</text>
<line x1="452.0" y1="300.5" x2="452.0" y2="304.3" stroke="#1a1a1a" stroke-width="1.2"/>
<text x="452.0" y="313.8" font-size="9.1" text-anchor="middle" font-weight="normal" fill="#161616">1H</text>
<line x1="486.3" y1="300.5" x2="486.3" y2="304.3" stroke="#1a1a1a" stroke-width="1.2"/>
<text x="486.3" y="313.8" font-size="9.1" text-anchor="middle" font-weight="normal" fill="#161616">3D</text>
<text transform="translate(375.0,262.0) rotate(-90)" x="0" y="0" font-size="9.8" text-anchor="middle" font-weight="normal" fill="#161616" textLength="89.5" lengthAdjust="spacingAndGlyphs" style="stroke-width:0.38px">Grip force (G force/g of BW)</text>
<polyline points="417.6,272.9 452.0,274.2 486.3,272.9" fill="none" stroke="#505050" stroke-width="1.25"/>
<polyline points="417.6,268.5 452.0,269.0 486.3,264.2" fill="none" stroke="#505050" stroke-width="1.25"/>
<polyline points="417.6,244.6 452.0,240.2 486.3,240.2" fill="none" stroke="#505050" stroke-width="1.25"/>
<polyline points="417.6,234.4 452.0,235.0 486.3,233.5" fill="none" stroke="#505050" stroke-width="1.25"/>
<line x1="417.6" y1="272.9" x2="417.6" y2="278.7" stroke="#2a2a2a" stroke-width="1.05"/>
<line x1="415.25" y1="272.9" x2="419.95000000000005" y2="272.9" stroke="#2a2a2a" stroke-width="1.05"/>
<line x1="415.25" y1="278.7" x2="419.95000000000005" y2="278.7" stroke="#2a2a2a" stroke-width="1.05"/>
<line x1="452.0" y1="274.2" x2="452.0" y2="281.9" stroke="#2a2a2a" stroke-width="1.05"/>
<line x1="449.65" y1="274.2" x2="454.35" y2="274.2" stroke="#2a2a2a" stroke-width="1.05"/>
<line x1="449.65" y1="281.9" x2="454.35" y2="281.9" stroke="#2a2a2a" stroke-width="1.05"/>
<line x1="486.3" y1="272.9" x2="486.3" y2="281.2" stroke="#2a2a2a" stroke-width="1.05"/>
<line x1="483.95" y1="272.9" x2="488.65000000000003" y2="272.9" stroke="#2a2a2a" stroke-width="1.05"/>
<line x1="483.95" y1="281.2" x2="488.65000000000003" y2="281.2" stroke="#2a2a2a" stroke-width="1.05"/>
<circle cx="417.6" cy="272.9" r="2.85" fill="#c5102e" stroke="#1a1a1a" stroke-width="1.0"/>
<circle cx="452.0" cy="274.2" r="2.85" fill="#c5102e" stroke="#1a1a1a" stroke-width="1.0"/>
<circle cx="486.3" cy="272.9" r="2.85" fill="#c5102e" stroke="#1a1a1a" stroke-width="1.0"/>
<line x1="417.6" y1="260.4" x2="417.6" y2="268.5" stroke="#2a2a2a" stroke-width="1.05"/>
<line x1="415.25" y1="260.4" x2="419.95000000000005" y2="260.4" stroke="#2a2a2a" stroke-width="1.05"/>
<line x1="415.25" y1="268.5" x2="419.95000000000005" y2="268.5" stroke="#2a2a2a" stroke-width="1.05"/>
<line x1="452.0" y1="261.9" x2="452.0" y2="269.0" stroke="#2a2a2a" stroke-width="1.05"/>
<line x1="449.65" y1="261.9" x2="454.35" y2="261.9" stroke="#2a2a2a" stroke-width="1.05"/>
<line x1="449.65" y1="269.0" x2="454.35" y2="269.0" stroke="#2a2a2a" stroke-width="1.05"/>
<line x1="486.3" y1="258.09999999999997" x2="486.3" y2="264.2" stroke="#2a2a2a" stroke-width="1.05"/>
<line x1="483.95" y1="258.09999999999997" x2="488.65000000000003" y2="258.09999999999997" stroke="#2a2a2a" stroke-width="1.05"/>
<line x1="483.95" y1="264.2" x2="488.65000000000003" y2="264.2" stroke="#2a2a2a" stroke-width="1.05"/>
<rect x="414.75" y="265.65" width="5.7" height="5.7" fill="#1f4f8c" stroke="#1a1a1a" stroke-width="1.0"/>
<rect x="449.15" y="266.15" width="5.7" height="5.7" fill="#1f4f8c" stroke="#1a1a1a" stroke-width="1.0"/>
<rect x="483.45" y="261.34999999999997" width="5.7" height="5.7" fill="#1f4f8c" stroke="#1a1a1a" stroke-width="1.0"/>
<line x1="417.6" y1="244.6" x2="417.6" y2="250.79999999999998" stroke="#2a2a2a" stroke-width="1.05"/>
<line x1="415.25" y1="244.6" x2="419.95000000000005" y2="244.6" stroke="#2a2a2a" stroke-width="1.05"/>
<line x1="415.25" y1="250.79999999999998" x2="419.95000000000005" y2="250.79999999999998" stroke="#2a2a2a" stroke-width="1.05"/>
<line x1="452.0" y1="240.2" x2="452.0" y2="244.2" stroke="#2a2a2a" stroke-width="1.05"/>
<line x1="449.65" y1="240.2" x2="454.35" y2="240.2" stroke="#2a2a2a" stroke-width="1.05"/>
<line x1="449.65" y1="244.2" x2="454.35" y2="244.2" stroke="#2a2a2a" stroke-width="1.05"/>
<line x1="486.3" y1="240.2" x2="486.3" y2="244.2" stroke="#2a2a2a" stroke-width="1.05"/>
<line x1="483.95" y1="240.2" x2="488.65000000000003" y2="240.2" stroke="#2a2a2a" stroke-width="1.05"/>
<line x1="483.95" y1="244.2" x2="488.65000000000003" y2="244.2" stroke="#2a2a2a" stroke-width="1.05"/>
<rect x="414.75" y="241.75" width="5.7" height="5.7" fill="#f5bf16" stroke="#1a1a1a" stroke-width="1.0"/>
<rect x="449.15" y="237.35" width="5.7" height="5.7" fill="#f5bf16" stroke="#1a1a1a" stroke-width="1.0"/>
<rect x="483.45" y="237.35" width="5.7" height="5.7" fill="#f5bf16" stroke="#1a1a1a" stroke-width="1.0"/>
<line x1="417.6" y1="228.1" x2="417.6" y2="234.4" stroke="#2a2a2a" stroke-width="1.05"/>
<line x1="415.25" y1="228.1" x2="419.95000000000005" y2="228.1" stroke="#2a2a2a" stroke-width="1.05"/>
<line x1="415.25" y1="234.4" x2="419.95000000000005" y2="234.4" stroke="#2a2a2a" stroke-width="1.05"/>
<line x1="452.0" y1="228.1" x2="452.0" y2="235.0" stroke="#2a2a2a" stroke-width="1.05"/>
<line x1="449.65" y1="228.1" x2="454.35" y2="228.1" stroke="#2a2a2a" stroke-width="1.05"/>
<line x1="449.65" y1="235.0" x2="454.35" y2="235.0" stroke="#2a2a2a" stroke-width="1.05"/>
<line x1="486.3" y1="227.3" x2="486.3" y2="233.5" stroke="#2a2a2a" stroke-width="1.05"/>
<line x1="483.95" y1="227.3" x2="488.65000000000003" y2="227.3" stroke="#2a2a2a" stroke-width="1.05"/>
<line x1="483.95" y1="233.5" x2="488.65000000000003" y2="233.5" stroke="#2a2a2a" stroke-width="1.05"/>
<circle cx="417.6" cy="234.4" r="2.85" fill="#9c96cf" stroke="#1a1a1a" stroke-width="1.0"/>
<circle cx="452.0" cy="235.0" r="2.85" fill="#9c96cf" stroke="#1a1a1a" stroke-width="1.0"/>
<circle cx="486.3" cy="233.5" r="2.85" fill="#9c96cf" stroke="#1a1a1a" stroke-width="1.0"/>
<circle cx="114.925" cy="36.0" r="1.05" fill="#3f9a46"/>
<circle cx="118.27499999999999" cy="36.0" r="1.05" fill="#3f9a46"/>
<line x1="114.925" y1="40.5" x2="114.925" y2="45.6" stroke="#3f9a46" stroke-width="0.75"/>
<line x1="113.625" y1="42.199999999999996" x2="116.225" y2="42.199999999999996" stroke="#3f9a46" stroke-width="0.7"/>
<line x1="118.27499999999999" y1="40.5" x2="118.27499999999999" y2="45.6" stroke="#3f9a46" stroke-width="0.75"/>
<line x1="116.975" y1="42.199999999999996" x2="119.57499999999999" y2="42.199999999999996" stroke="#3f9a46" stroke-width="0.7"/>
<circle cx="114.925" cy="50.1" r="1.05" fill="#3c3c3c"/>
<circle cx="118.27499999999999" cy="50.1" r="1.05" fill="#3c3c3c"/>
<line x1="116.4" y1="54.2" x2="116.4" y2="59.300000000000004" stroke="#3c3c3c" stroke-width="0.75"/>
<line x1="115.10000000000001" y1="55.9" x2="117.7" y2="55.9" stroke="#3c3c3c" stroke-width="0.7"/>
<circle cx="152.1" cy="26.2" r="1.05" fill="#a9cfa0"/>
<line x1="152.1" y1="31.1" x2="152.1" y2="36.2" stroke="#c9cbb8" stroke-width="0.75"/>
<line x1="150.79999999999998" y1="32.8" x2="153.4" y2="32.8" stroke="#c9cbb8" stroke-width="0.7"/>
<circle cx="150.42499999999998" cy="40.5" r="1.05" fill="#3f9a46"/>
<circle cx="153.77499999999998" cy="40.5" r="1.05" fill="#3f9a46"/>
<line x1="152.1" y1="44.5" x2="152.1" y2="49.6" stroke="#3f9a46" stroke-width="0.75"/>
<line x1="150.79999999999998" y1="46.199999999999996" x2="153.4" y2="46.199999999999996" stroke="#3f9a46" stroke-width="0.7"/>
<circle cx="152.1" cy="54.4" r="1.05" fill="#3c3c3c"/>
<line x1="152.1" y1="58.1" x2="152.1" y2="63.2" stroke="#3c3c3c" stroke-width="0.75"/>
<line x1="150.79999999999998" y1="59.8" x2="153.4" y2="59.8" stroke="#3c3c3c" stroke-width="0.7"/>
<circle cx="288.0" cy="35.9" r="1.05" fill="#a9cfa0"/>
<circle cx="284.65" cy="42.1" r="1.05" fill="#3f9a46"/>
<circle cx="288.0" cy="42.1" r="1.05" fill="#3f9a46"/>
<circle cx="291.34999999999997" cy="42.1" r="1.05" fill="#3f9a46"/>
<circle cx="286.425" cy="48.3" r="1.05" fill="#2f6585"/>
<circle cx="289.77500000000003" cy="48.3" r="1.05" fill="#2f6585"/>
<line x1="284.45" y1="95.3" x2="284.45" y2="100.4" stroke="#86c486" stroke-width="0.75"/>
<line x1="283.15" y1="97.0" x2="285.75" y2="97.0" stroke="#86c486" stroke-width="0.7"/>
<line x1="287.8" y1="95.3" x2="287.8" y2="100.4" stroke="#86c486" stroke-width="0.75"/>
<line x1="286.5" y1="97.0" x2="289.1" y2="97.0" stroke="#86c486" stroke-width="0.7"/>
<line x1="291.15" y1="95.3" x2="291.15" y2="100.4" stroke="#86c486" stroke-width="0.75"/>
<line x1="289.84999999999997" y1="97.0" x2="292.45" y2="97.0" stroke="#86c486" stroke-width="0.7"/>
<line x1="287.5" y1="101.69999999999999" x2="287.5" y2="106.8" stroke="#8a88a8" stroke-width="0.75"/>
<line x1="286.2" y1="103.39999999999999" x2="288.8" y2="103.39999999999999" stroke="#8a88a8" stroke-width="0.7"/>
<circle cx="321.525" cy="39.5" r="1.05" fill="#b5ad9e"/>
<circle cx="324.875" cy="39.5" r="1.05" fill="#b5ad9e"/>
<circle cx="318.175" cy="45.8" r="1.05" fill="#4f7255"/>
<circle cx="321.52500000000003" cy="45.8" r="1.05" fill="#4f7255"/>
<circle cx="324.875" cy="45.8" r="1.05" fill="#4f7255"/>
<circle cx="328.225" cy="45.8" r="1.05" fill="#4f7255"/>
<circle cx="321.525" cy="52.0" r="1.05" fill="#6a5262"/>
<circle cx="324.875" cy="52.0" r="1.05" fill="#6a5262"/>
<line x1="321.625" y1="96.39999999999999" x2="321.625" y2="101.5" stroke="#c6c9b8" stroke-width="0.75"/>
<line x1="320.325" y1="98.1" x2="322.925" y2="98.1" stroke="#c6c9b8" stroke-width="0.7"/>
<line x1="324.975" y1="96.39999999999999" x2="324.975" y2="101.5" stroke="#c6c9b8" stroke-width="0.75"/>
<line x1="323.675" y1="98.1" x2="326.27500000000003" y2="98.1" stroke="#c6c9b8" stroke-width="0.7"/>
<line x1="321.625" y1="103.1" x2="321.625" y2="108.2" stroke="#6fb86f" stroke-width="0.75"/>
<line x1="320.325" y1="104.8" x2="322.925" y2="104.8" stroke="#6fb86f" stroke-width="0.7"/>
<line x1="324.975" y1="103.1" x2="324.975" y2="108.2" stroke="#6fb86f" stroke-width="0.75"/>
<line x1="323.675" y1="104.8" x2="326.27500000000003" y2="104.8" stroke="#6fb86f" stroke-width="0.7"/>
<line x1="321.625" y1="109.39999999999999" x2="321.625" y2="114.5" stroke="#4a4a4a" stroke-width="0.75"/>
<line x1="320.325" y1="111.1" x2="322.925" y2="111.1" stroke="#4a4a4a" stroke-width="0.7"/>
<line x1="324.975" y1="109.39999999999999" x2="324.975" y2="114.5" stroke="#4a4a4a" stroke-width="0.75"/>
<line x1="323.675" y1="111.1" x2="326.27500000000003" y2="111.1" stroke="#4a4a4a" stroke-width="0.7"/>
<circle cx="111.475" cy="229.2" r="1.05" fill="#222"/>
<circle cx="114.82499999999999" cy="229.2" r="1.05" fill="#222"/>
<circle cx="118.175" cy="229.2" r="1.05" fill="#222"/>
<circle cx="121.52499999999999" cy="229.2" r="1.05" fill="#222"/>
<line x1="111.475" y1="233.29999999999998" x2="111.475" y2="238.39999999999998" stroke="#222" stroke-width="0.75"/>
<line x1="110.175" y1="235.0" x2="112.77499999999999" y2="235.0" stroke="#222" stroke-width="0.7"/>
<line x1="114.82499999999999" y1="233.29999999999998" x2="114.82499999999999" y2="238.39999999999998" stroke="#222" stroke-width="0.75"/>
<line x1="113.52499999999999" y1="235.0" x2="116.12499999999999" y2="235.0" stroke="#222" stroke-width="0.7"/>
<line x1="118.175" y1="233.29999999999998" x2="118.175" y2="238.39999999999998" stroke="#222" stroke-width="0.75"/>
<line x1="116.875" y1="235.0" x2="119.475" y2="235.0" stroke="#222" stroke-width="0.7"/>
<line x1="121.52499999999999" y1="233.29999999999998" x2="121.52499999999999" y2="238.39999999999998" stroke="#222" stroke-width="0.75"/>
<line x1="120.225" y1="235.0" x2="122.82499999999999" y2="235.0" stroke="#222" stroke-width="0.7"/>
<circle cx="146.975" cy="230.2" r="1.05" fill="#222"/>
<circle cx="150.325" cy="230.2" r="1.05" fill="#222"/>
<circle cx="153.67499999999998" cy="230.2" r="1.05" fill="#222"/>
<circle cx="157.025" cy="230.2" r="1.05" fill="#222"/>
<line x1="146.975" y1="234.5" x2="146.975" y2="239.6" stroke="#222" stroke-width="0.75"/>
<line x1="145.67499999999998" y1="236.20000000000002" x2="148.275" y2="236.20000000000002" stroke="#222" stroke-width="0.7"/>
<line x1="150.325" y1="234.5" x2="150.325" y2="239.6" stroke="#222" stroke-width="0.75"/>
<line x1="149.02499999999998" y1="236.20000000000002" x2="151.625" y2="236.20000000000002" stroke="#222" stroke-width="0.7"/>
<line x1="153.67499999999998" y1="234.5" x2="153.67499999999998" y2="239.6" stroke="#222" stroke-width="0.75"/>
<line x1="152.37499999999997" y1="236.20000000000002" x2="154.975" y2="236.20000000000002" stroke="#222" stroke-width="0.7"/>
<line x1="157.025" y1="234.5" x2="157.025" y2="239.6" stroke="#222" stroke-width="0.75"/>
<line x1="155.725" y1="236.20000000000002" x2="158.32500000000002" y2="236.20000000000002" stroke="#222" stroke-width="0.7"/>
<circle cx="282.475" cy="227.9" r="1.05" fill="#222"/>
<circle cx="285.82500000000005" cy="227.9" r="1.05" fill="#222"/>
<circle cx="289.175" cy="227.9" r="1.05" fill="#222"/>
<circle cx="292.52500000000003" cy="227.9" r="1.05" fill="#222"/>
<line x1="282.475" y1="232.29999999999998" x2="282.475" y2="237.39999999999998" stroke="#222" stroke-width="0.75"/>
<line x1="281.175" y1="234.0" x2="283.77500000000003" y2="234.0" stroke="#222" stroke-width="0.7"/>
<line x1="285.82500000000005" y1="232.29999999999998" x2="285.82500000000005" y2="237.39999999999998" stroke="#222" stroke-width="0.75"/>
<line x1="284.52500000000003" y1="234.0" x2="287.12500000000006" y2="234.0" stroke="#222" stroke-width="0.7"/>
<line x1="289.175" y1="232.29999999999998" x2="289.175" y2="237.39999999999998" stroke="#222" stroke-width="0.75"/>
<line x1="287.875" y1="234.0" x2="290.475" y2="234.0" stroke="#222" stroke-width="0.7"/>
<line x1="292.52500000000003" y1="232.29999999999998" x2="292.52500000000003" y2="237.39999999999998" stroke="#222" stroke-width="0.75"/>
<line x1="291.225" y1="234.0" x2="293.82500000000005" y2="234.0" stroke="#222" stroke-width="0.7"/>
<circle cx="317.175" cy="229.7" r="1.05" fill="#222"/>
<circle cx="320.52500000000003" cy="229.7" r="1.05" fill="#222"/>
<circle cx="323.875" cy="229.7" r="1.05" fill="#222"/>
<circle cx="327.225" cy="229.7" r="1.05" fill="#222"/>
<line x1="317.175" y1="234.29999999999998" x2="317.175" y2="239.39999999999998" stroke="#222" stroke-width="0.75"/>
<line x1="315.875" y1="236.0" x2="318.475" y2="236.0" stroke="#222" stroke-width="0.7"/>
<line x1="320.52500000000003" y1="234.29999999999998" x2="320.52500000000003" y2="239.39999999999998" stroke="#222" stroke-width="0.75"/>
<line x1="319.225" y1="236.0" x2="321.82500000000005" y2="236.0" stroke="#222" stroke-width="0.7"/>
<line x1="323.875" y1="234.29999999999998" x2="323.875" y2="239.39999999999998" stroke="#222" stroke-width="0.75"/>
<line x1="322.575" y1="236.0" x2="325.175" y2="236.0" stroke="#222" stroke-width="0.7"/>
<line x1="327.225" y1="234.29999999999998" x2="327.225" y2="239.39999999999998" stroke="#222" stroke-width="0.75"/>
<line x1="325.925" y1="236.0" x2="328.52500000000003" y2="236.0" stroke="#222" stroke-width="0.7"/>
<circle cx="486.3" cy="253.1" r="1.05" fill="#333"/>
<line x1="7.2" y1="148.8" x2="26.5" y2="148.8" stroke="#333" stroke-width="1.0"/>
<circle cx="17.1" cy="148.8" r="3.5" fill="#c5102e" stroke="#1a1a1a" stroke-width="1.0"/>
<text x="30.4" y="151.60000000000002" font-size="8.6" text-anchor="start" font-weight="normal" fill="#161616" textLength="47.6" lengthAdjust="spacingAndGlyphs">HbSS-Vehicle</text>
<line x1="88.0" y1="148.8" x2="107.7" y2="148.8" stroke="#333" stroke-width="1.0"/>
<path d="M94.30000000000001,145.5 L101.5,145.5 L97.9,152.10000000000002 Z" fill="#b9bea6" stroke="#1a1a1a" stroke-width="1.0" stroke-linejoin="miter"/>
<text x="111.5" y="151.60000000000002" font-size="8.6" text-anchor="start" font-weight="normal" fill="#161616" textLength="51.0" lengthAdjust="spacingAndGlyphs">HbSS-3 mg/kg</text>
<line x1="172.9" y1="148.8" x2="192.8" y2="148.8" stroke="#333" stroke-width="1.0"/>
<rect x="179.3" y="145.20000000000002" width="7.2" height="7.2" fill="#36a83b" stroke="#1a1a1a" stroke-width="1.0"/>
<text x="196.3" y="151.60000000000002" font-size="8.6" text-anchor="start" font-weight="normal" fill="#161616" textLength="58.2" lengthAdjust="spacingAndGlyphs">HBSS-20 mg/kg</text>
<line x1="262.9" y1="148.8" x2="282.2" y2="148.8" stroke="#333" stroke-width="1.0"/>
<path d="M269.09999999999997,152.10000000000002 L276.3,152.10000000000002 L272.7,145.5 Z" fill="#4c4e60" stroke="#1a1a1a" stroke-width="1.0" stroke-linejoin="miter"/>
<text x="286.3" y="151.60000000000002" font-size="8.6" text-anchor="start" font-weight="normal" fill="#161616" textLength="56.7" lengthAdjust="spacingAndGlyphs">HbSS-30 mg/kg</text>
<line x1="352.9" y1="148.8" x2="372.2" y2="148.8" stroke="#333" stroke-width="1.0"/>
<circle cx="362.6" cy="148.8" r="3.5" fill="#9c96cf" stroke="#1a1a1a" stroke-width="1.0"/>
<text x="375.8" y="151.60000000000002" font-size="8.6" text-anchor="start" font-weight="normal" fill="#161616" textLength="47.2" lengthAdjust="spacingAndGlyphs">HbAA-Vehicle</text>
<line x1="433.2" y1="148.8" x2="452.8" y2="148.8" stroke="#333" stroke-width="1.0"/>
<circle cx="443.1" cy="148.8" r="3.5" fill="#f5bf16" stroke="#1a1a1a" stroke-width="1.0"/>
<text x="456.4" y="151.60000000000002" font-size="8.6" text-anchor="start" font-weight="normal" fill="#161616" textLength="56.1" lengthAdjust="spacingAndGlyphs">HbAA-20 mg/kg</text>
<line x1="32.0" y1="159.8" x2="487.5" y2="159.8" stroke="#464646" stroke-width="1.5"/>
<text x="260.0" y="173.9" font-size="8.6" text-anchor="middle" font-weight="normal" fill="#161616" textLength="41.0" lengthAdjust="spacingAndGlyphs">Male - PEA</text>
<line x1="191.7" y1="357.3" x2="191.7" y2="452.1" stroke="#1a1a1a" stroke-width="1.2"/>
<line x1="191.1" y1="451.5" x2="371.3" y2="451.5" stroke="#1a1a1a" stroke-width="1.2"/>
<line x1="188.1" y1="451.4" x2="191.7" y2="451.4" stroke="#1a1a1a" stroke-width="1.0"/>
<text x="185.1" y="454.25" font-size="8.4" text-anchor="end" font-weight="normal" fill="#161616" textLength="5.14" lengthAdjust="spacingAndGlyphs" style="stroke-width:0.12px">0</text>
<line x1="188.1" y1="405.7" x2="191.7" y2="405.7" stroke="#1a1a1a" stroke-width="1.0"/>
<text x="185.1" y="408.55" font-size="8.4" text-anchor="end" font-weight="normal" fill="#161616" textLength="10.27" lengthAdjust="spacingAndGlyphs" style="stroke-width:0.12px">30</text>
<line x1="188.1" y1="360.2" x2="191.7" y2="360.2" stroke="#1a1a1a" stroke-width="1.0"/>
<text x="185.1" y="363.05" font-size="8.4" text-anchor="end" font-weight="normal" fill="#161616" textLength="10.27" lengthAdjust="spacingAndGlyphs" style="stroke-width:0.12px">60</text>
<line x1="213.0" y1="451.5" x2="213.0" y2="455.3" stroke="#1a1a1a" stroke-width="1.2"/>
<text x="213.0" y="465.0" font-size="9.1" text-anchor="middle" font-weight="normal" fill="#161616">BL</text>
<line x1="258.7" y1="451.5" x2="258.7" y2="455.3" stroke="#1a1a1a" stroke-width="1.2"/>
<text x="258.7" y="465.0" font-size="9.1" text-anchor="middle" font-weight="normal" fill="#161616">1H</text>
<line x1="304.4" y1="451.5" x2="304.4" y2="455.3" stroke="#1a1a1a" stroke-width="1.2"/>
<text x="304.4" y="465.0" font-size="9.1" text-anchor="middle" font-weight="normal" fill="#161616">24H</text>
<line x1="350.0" y1="451.5" x2="350.0" y2="455.3" stroke="#1a1a1a" stroke-width="1.2"/>
<text x="350.0" y="465.0" font-size="9.1" text-anchor="middle" font-weight="normal" fill="#161616">3D</text>
<text transform="translate(156.6,404.3) rotate(-90)" x="0" y="0" font-size="8.6" text-anchor="middle" font-weight="normal" fill="#161616" textLength="25.8" lengthAdjust="spacingAndGlyphs" style="stroke-width:0.38px">% Time</text>
<text transform="translate(170.0,404.8) rotate(-90)" x="0" y="0" font-size="8.6" text-anchor="middle" font-weight="normal" fill="#161616" textLength="66.2" lengthAdjust="spacingAndGlyphs" style="stroke-width:0.38px">cold (23°C) chamber</text>
<line x1="193.4" y1="375.3" x2="371.3" y2="375.3" stroke="#222" stroke-width="0.9" stroke-dasharray="1.2,1.2"/>
<rect x="195.85" y="422.60" width="5.1" height="28.70" fill="#c90f2e"/>
<rect x="205.65" y="417.53" width="5.1" height="33.77" fill="#34a83a"/>
<rect x="215.25" y="384.53" width="5.1" height="66.77" fill="#948bc8"/>
<rect x="225.05" y="384.53" width="5.1" height="66.77" fill="#f6bd14"/>
<rect x="241.55" y="420.91" width="5.1" height="30.39" fill="#c90f2e"/>
<rect x="251.35" y="389.59" width="5.1" height="61.71" fill="#34a83a"/>
<rect x="260.95" y="377.77" width="5.1" height="73.53" fill="#948bc8"/>
<rect x="270.75" y="382.84" width="5.1" height="68.46" fill="#f6bd14"/>
<rect x="287.25" y="416.46" width="5.1" height="34.84" fill="#c90f2e"/>
<rect x="297.05" y="381.46" width="5.1" height="69.84" fill="#34a83a"/>
<rect x="306.65" y="376.09" width="5.1" height="75.21" fill="#948bc8"/>
<rect x="316.45" y="385.30" width="5.1" height="66.00" fill="#f6bd14"/>
<rect x="332.85" y="424.74" width="5.1" height="26.56" fill="#c90f2e"/>
<rect x="342.65" y="395.73" width="5.1" height="55.57" fill="#34a83a"/>
<rect x="352.25" y="382.23" width="5.1" height="69.07" fill="#948bc8"/>
<rect x="362.05" y="380.23" width="5.1" height="71.07" fill="#f6bd14"/>
<line x1="198.4" y1="408.32" x2="198.4" y2="422.5955" stroke="#222" stroke-width="0.9"/>
<line x1="196.6" y1="408.32" x2="200.20000000000002" y2="408.32" stroke="#222" stroke-width="0.9"/>
<path d="M195.50,437.94 L201.30,437.94 L198.40,432.94 Z" fill="#fff" stroke="#111" stroke-width="1.0"/>
<path d="M195.50,423.21 L201.30,423.21 L198.40,418.21 Z" fill="#fff" stroke="#111" stroke-width="1.0"/>
<path d="M195.50,420.60 L201.30,420.60 L198.40,415.60 Z" fill="#fff" stroke="#111" stroke-width="1.0"/>
<path d="M195.50,402.18 L201.30,402.18 L198.40,397.18 Z" fill="#fff" stroke="#111" stroke-width="1.0"/>
<path d="M205.30,425.66 L211.10,425.66 L208.20,420.66 Z" fill="#fff" stroke="#111" stroke-width="1.0"/>
<path d="M205.30,421.52 L211.10,421.52 L208.20,416.52 Z" fill="#fff" stroke="#111" stroke-width="1.0"/>
<path d="M205.30,416.15 L211.10,416.15 L208.20,411.15 Z" fill="#fff" stroke="#111" stroke-width="1.0"/>
<path d="M205.30,411.39 L211.10,411.39 L208.20,406.39 Z" fill="#fff" stroke="#111" stroke-width="1.0"/>
<path d="M205.30,408.01 L211.10,408.01 L208.20,403.01 Z" fill="#fff" stroke="#111" stroke-width="1.0"/>
<path d="M214.90,385.14 L220.70,385.14 L217.80,380.14 Z" fill="#fff" stroke="#111" stroke-width="1.0"/>
<path d="M214.90,380.84 L220.70,380.84 L217.80,375.84 Z" fill="#fff" stroke="#111" stroke-width="1.0"/>
<path d="M214.90,378.39 L220.70,378.39 L217.80,373.39 Z" fill="#fff" stroke="#111" stroke-width="1.0"/>
<path d="M214.90,372.55 L220.70,372.55 L217.80,367.55 Z" fill="#fff" stroke="#111" stroke-width="1.0"/>
<path d="M214.90,369.18 L220.70,369.18 L217.80,364.18 Z" fill="#fff" stroke="#111" stroke-width="1.0"/>
<path d="M224.70,385.14 L230.50,385.14 L227.60,380.14 Z" fill="#fff" stroke="#111" stroke-width="1.0"/>
<path d="M224.70,382.53 L230.50,382.53 L227.60,377.53 Z" fill="#fff" stroke="#111" stroke-width="1.0"/>
<path d="M224.70,378.39 L230.50,378.39 L227.60,373.39 Z" fill="#fff" stroke="#111" stroke-width="1.0"/>
<path d="M224.70,375.01 L230.50,375.01 L227.60,370.01 Z" fill="#fff" stroke="#111" stroke-width="1.0"/>
<path d="M224.70,369.94 L230.50,369.94 L227.60,364.94 Z" fill="#fff" stroke="#111" stroke-width="1.0"/>
<path d="M241.20,431.65 L247.00,431.65 L244.10,426.65 Z" fill="#fff" stroke="#111" stroke-width="1.0"/>
<path d="M241.20,421.52 L247.00,421.52 L244.10,416.52 Z" fill="#fff" stroke="#111" stroke-width="1.0"/>
<path d="M241.20,418.14 L247.00,418.14 L244.10,413.14 Z" fill="#fff" stroke="#111" stroke-width="1.0"/>
<path d="M241.20,415.53 L247.00,415.53 L244.10,410.53 Z" fill="#fff" stroke="#111" stroke-width="1.0"/>
<path d="M241.20,412.16 L247.00,412.16 L244.10,407.16 Z" fill="#fff" stroke="#111" stroke-width="1.0"/>
<path d="M251.00,406.32 L256.80,406.32 L253.90,401.32 Z" fill="#fff" stroke="#111" stroke-width="1.0"/>
<path d="M251.00,401.26 L256.80,401.26 L253.90,396.26 Z" fill="#fff" stroke="#111" stroke-width="1.0"/>
<path d="M251.00,391.13 L256.80,391.13 L253.90,386.13 Z" fill="#fff" stroke="#111" stroke-width="1.0"/>
<path d="M251.00,387.75 L256.80,387.75 L253.90,382.75 Z" fill="#fff" stroke="#111" stroke-width="1.0"/>
<path d="M251.00,378.39 L256.80,378.39 L253.90,373.39 Z" fill="#fff" stroke="#111" stroke-width="1.0"/>
<path d="M251.00,375.01 L256.80,375.01 L253.90,370.01 Z" fill="#fff" stroke="#111" stroke-width="1.0"/>
<path d="M260.60,377.62 L266.40,377.62 L263.50,372.62 Z" fill="#fff" stroke="#111" stroke-width="1.0"/>
<path d="M260.60,375.01 L266.40,375.01 L263.50,370.01 Z" fill="#fff" stroke="#111" stroke-width="1.0"/>
<path d="M270.40,383.45 L276.20,383.45 L273.30,378.45 Z" fill="#fff" stroke="#111" stroke-width="1.0"/>
<path d="M270.40,378.39 L276.20,378.39 L273.30,373.39 Z" fill="#fff" stroke="#111" stroke-width="1.0"/>
<path d="M270.40,375.01 L276.20,375.01 L273.30,370.01 Z" fill="#fff" stroke="#111" stroke-width="1.0"/>
<path d="M286.90,431.80 L292.70,431.80 L289.80,426.80 Z" fill="#fff" stroke="#111" stroke-width="1.0"/>
<path d="M286.90,425.51 L292.70,425.51 L289.80,420.51 Z" fill="#fff" stroke="#111" stroke-width="1.0"/>
<path d="M286.90,417.83 L292.70,417.83 L289.80,412.83 Z" fill="#fff" stroke="#111" stroke-width="1.0"/>
<path d="M286.90,414.00 L292.70,414.00 L289.80,409.00 Z" fill="#fff" stroke="#111" stroke-width="1.0"/>
<path d="M286.90,409.09 L292.70,409.09 L289.80,404.09 Z" fill="#fff" stroke="#111" stroke-width="1.0"/>
<path d="M296.70,386.06 L302.50,386.06 L299.60,381.06 Z" fill="#fff" stroke="#111" stroke-width="1.0"/>
<path d="M296.70,381.46 L302.50,381.46 L299.60,376.46 Z" fill="#fff" stroke="#111" stroke-width="1.0"/>
<path d="M296.70,378.39 L302.50,378.39 L299.60,373.39 Z" fill="#fff" stroke="#111" stroke-width="1.0"/>
<path d="M306.30,376.39 L312.10,376.39 L309.20,371.39 Z" fill="#fff" stroke="#111" stroke-width="1.0"/>
<path d="M316.10,385.60 L321.90,385.60 L319.00,380.60 Z" fill="#fff" stroke="#111" stroke-width="1.0"/>
<path d="M316.10,380.38 L321.90,380.38 L319.00,375.38 Z" fill="#fff" stroke="#111" stroke-width="1.0"/>
<path d="M316.10,377.31 L321.90,377.31 L319.00,372.31 Z" fill="#fff" stroke="#111" stroke-width="1.0"/>
<path d="M332.50,425.66 L338.30,425.66 L335.40,420.66 Z" fill="#fff" stroke="#111" stroke-width="1.0"/>
<path d="M332.50,423.97 L338.30,423.97 L335.40,418.97 Z" fill="#fff" stroke="#111" stroke-width="1.0"/>
<path d="M332.50,420.75 L338.30,420.75 L335.40,415.75 Z" fill="#fff" stroke="#111" stroke-width="1.0"/>
<path d="M332.50,413.08 L338.30,413.08 L335.40,408.08 Z" fill="#fff" stroke="#111" stroke-width="1.0"/>
<path d="M342.30,396.96 L348.10,396.96 L345.20,391.96 Z" fill="#fff" stroke="#111" stroke-width="1.0"/>
<path d="M342.30,394.50 L348.10,394.50 L345.20,389.50 Z" fill="#fff" stroke="#111" stroke-width="1.0"/>
<path d="M342.30,390.82 L348.10,390.82 L345.20,385.82 Z" fill="#fff" stroke="#111" stroke-width="1.0"/>
<path d="M342.30,383.45 L348.10,383.45 L345.20,378.45 Z" fill="#fff" stroke="#111" stroke-width="1.0"/>
<path d="M351.90,384.22 L357.70,384.22 L354.80,379.22 Z" fill="#fff" stroke="#111" stroke-width="1.0"/>
<path d="M351.90,380.38 L357.70,380.38 L354.80,375.38 Z" fill="#fff" stroke="#111" stroke-width="1.0"/>
<path d="M351.90,377.31 L357.70,377.31 L354.80,372.31 Z" fill="#fff" stroke="#111" stroke-width="1.0"/>
<path d="M351.90,374.24 L357.70,374.24 L354.80,369.24 Z" fill="#fff" stroke="#111" stroke-width="1.0"/>
<path d="M361.70,379.92 L367.50,379.92 L364.60,374.92 Z" fill="#fff" stroke="#111" stroke-width="1.0"/>
<path d="M361.70,376.24 L367.50,376.24 L364.60,371.24 Z" fill="#fff" stroke="#111" stroke-width="1.0"/>
<path d="M361.70,373.17 L367.50,373.17 L364.60,368.17 Z" fill="#fff" stroke="#111" stroke-width="1.0"/>
<path d="M361.70,369.64 L367.50,369.64 L364.60,364.64 Z" fill="#fff" stroke="#111" stroke-width="1.0"/>
<line x1="198.4" y1="395.5" x2="207.7" y2="395.5" stroke="#333" stroke-width="0.9"/>
<polyline points="202.7,395.5 202.7,356.7 222.9,356.7 222.9,358.6" fill="none" stroke="#333" stroke-width="0.9"/>
<line x1="218.7" y1="358.6" x2="227.5" y2="358.6" stroke="#333" stroke-width="0.9"/>
<circle cx="210.6" cy="352.2" r="1.05" fill="#333"/>
<circle cx="214.6" cy="352.2" r="1.05" fill="#333"/>
<polyline points="244.3,405.7 244.3,362.6 254.4,362.6 254.4,367.7" fill="none" stroke="#333" stroke-width="0.9"/>
<circle cx="249.4" cy="357.5" r="1.05" fill="#333"/>
<polyline points="290.4,402.0 290.4,366.7 300.3,366.7 300.3,374.0" fill="none" stroke="#333" stroke-width="0.9"/>
<circle cx="291.9" cy="362.6" r="1.05" fill="#333"/>
<circle cx="295.5" cy="362.6" r="1.05" fill="#333"/>
<circle cx="299.09999999999997" cy="362.6" r="1.05" fill="#333"/>
<polyline points="334.9,405.0 334.9,370.3 345.8,370.3 345.8,378.1" fill="none" stroke="#333" stroke-width="0.9"/>
<circle cx="338.2" cy="365.7" r="1.05" fill="#333"/>
<circle cx="341.8" cy="365.7" r="1.05" fill="#333"/>
<line x1="256.0" y1="470.6" x2="354.5" y2="470.6" stroke="#333" stroke-width="1.1"/>
<text x="305.6" y="481.7" font-size="8.6" text-anchor="middle" font-weight="normal" fill="#161616" textLength="45.2" lengthAdjust="spacingAndGlyphs">Time Post-Tx</text>
<line x1="95.0" y1="497.5" x2="113.8" y2="497.5" stroke="#333" stroke-width="1.0"/>
<circle cx="104.5" cy="497.5" r="3.5" fill="#c5102e" stroke="#1a1a1a" stroke-width="1.0"/>
<text x="117.5" y="500.8" font-size="8.6" text-anchor="start" font-weight="normal" fill="#161616" textLength="47.6" lengthAdjust="spacingAndGlyphs">HbSS-Vehicle</text>
<line x1="176.2" y1="497.5" x2="194.5" y2="497.5" stroke="#333" stroke-width="1.0"/>
<rect x="181.9" y="493.9" width="7.2" height="7.2" fill="#36a83b" stroke="#1a1a1a" stroke-width="1.0"/>
<text x="198.0" y="500.8" font-size="8.6" text-anchor="start" font-weight="normal" fill="#161616" textLength="56.0" lengthAdjust="spacingAndGlyphs">HbSS-20 mg/kg</text>
<line x1="265.5" y1="497.5" x2="285.0" y2="497.5" stroke="#333" stroke-width="1.0"/>
<circle cx="274.5" cy="497.5" r="3.5" fill="#9c96cf" stroke="#1a1a1a" stroke-width="1.0"/>
<text x="288.8" y="500.8" font-size="8.6" text-anchor="start" font-weight="normal" fill="#161616" textLength="46.8" lengthAdjust="spacingAndGlyphs">HbAA-Vehicle</text>
<line x1="346.2" y1="497.5" x2="364.0" y2="497.5" stroke="#333" stroke-width="1.0"/>
<rect x="351.4" y="493.9" width="7.2" height="7.2" fill="#f5bf16" stroke="#1a1a1a" stroke-width="1.0"/>
<text x="368.8" y="500.8" font-size="8.6" text-anchor="start" font-weight="normal" fill="#161616" textLength="56.2" lengthAdjust="spacingAndGlyphs">HbAA-20 mg/kg</text>
<line x1="80.0" y1="508.6" x2="439.5" y2="508.6" stroke="#464646" stroke-width="1.5"/>
<text x="259.5" y="522.5" font-size="8.6" text-anchor="middle" font-weight="normal" fill="#161616" textLength="50.0" lengthAdjust="spacingAndGlyphs">Female - PEA</text>
<rect x="0.5" y="0.5" width="519" height="531" fill="none" stroke="#3a3a3a" stroke-width="1"/>
<rect x="1.5" y="1.5" width="517" height="529" fill="none" stroke="#c4c4c4" stroke-width="1"/>
</svg></div></body></html>
